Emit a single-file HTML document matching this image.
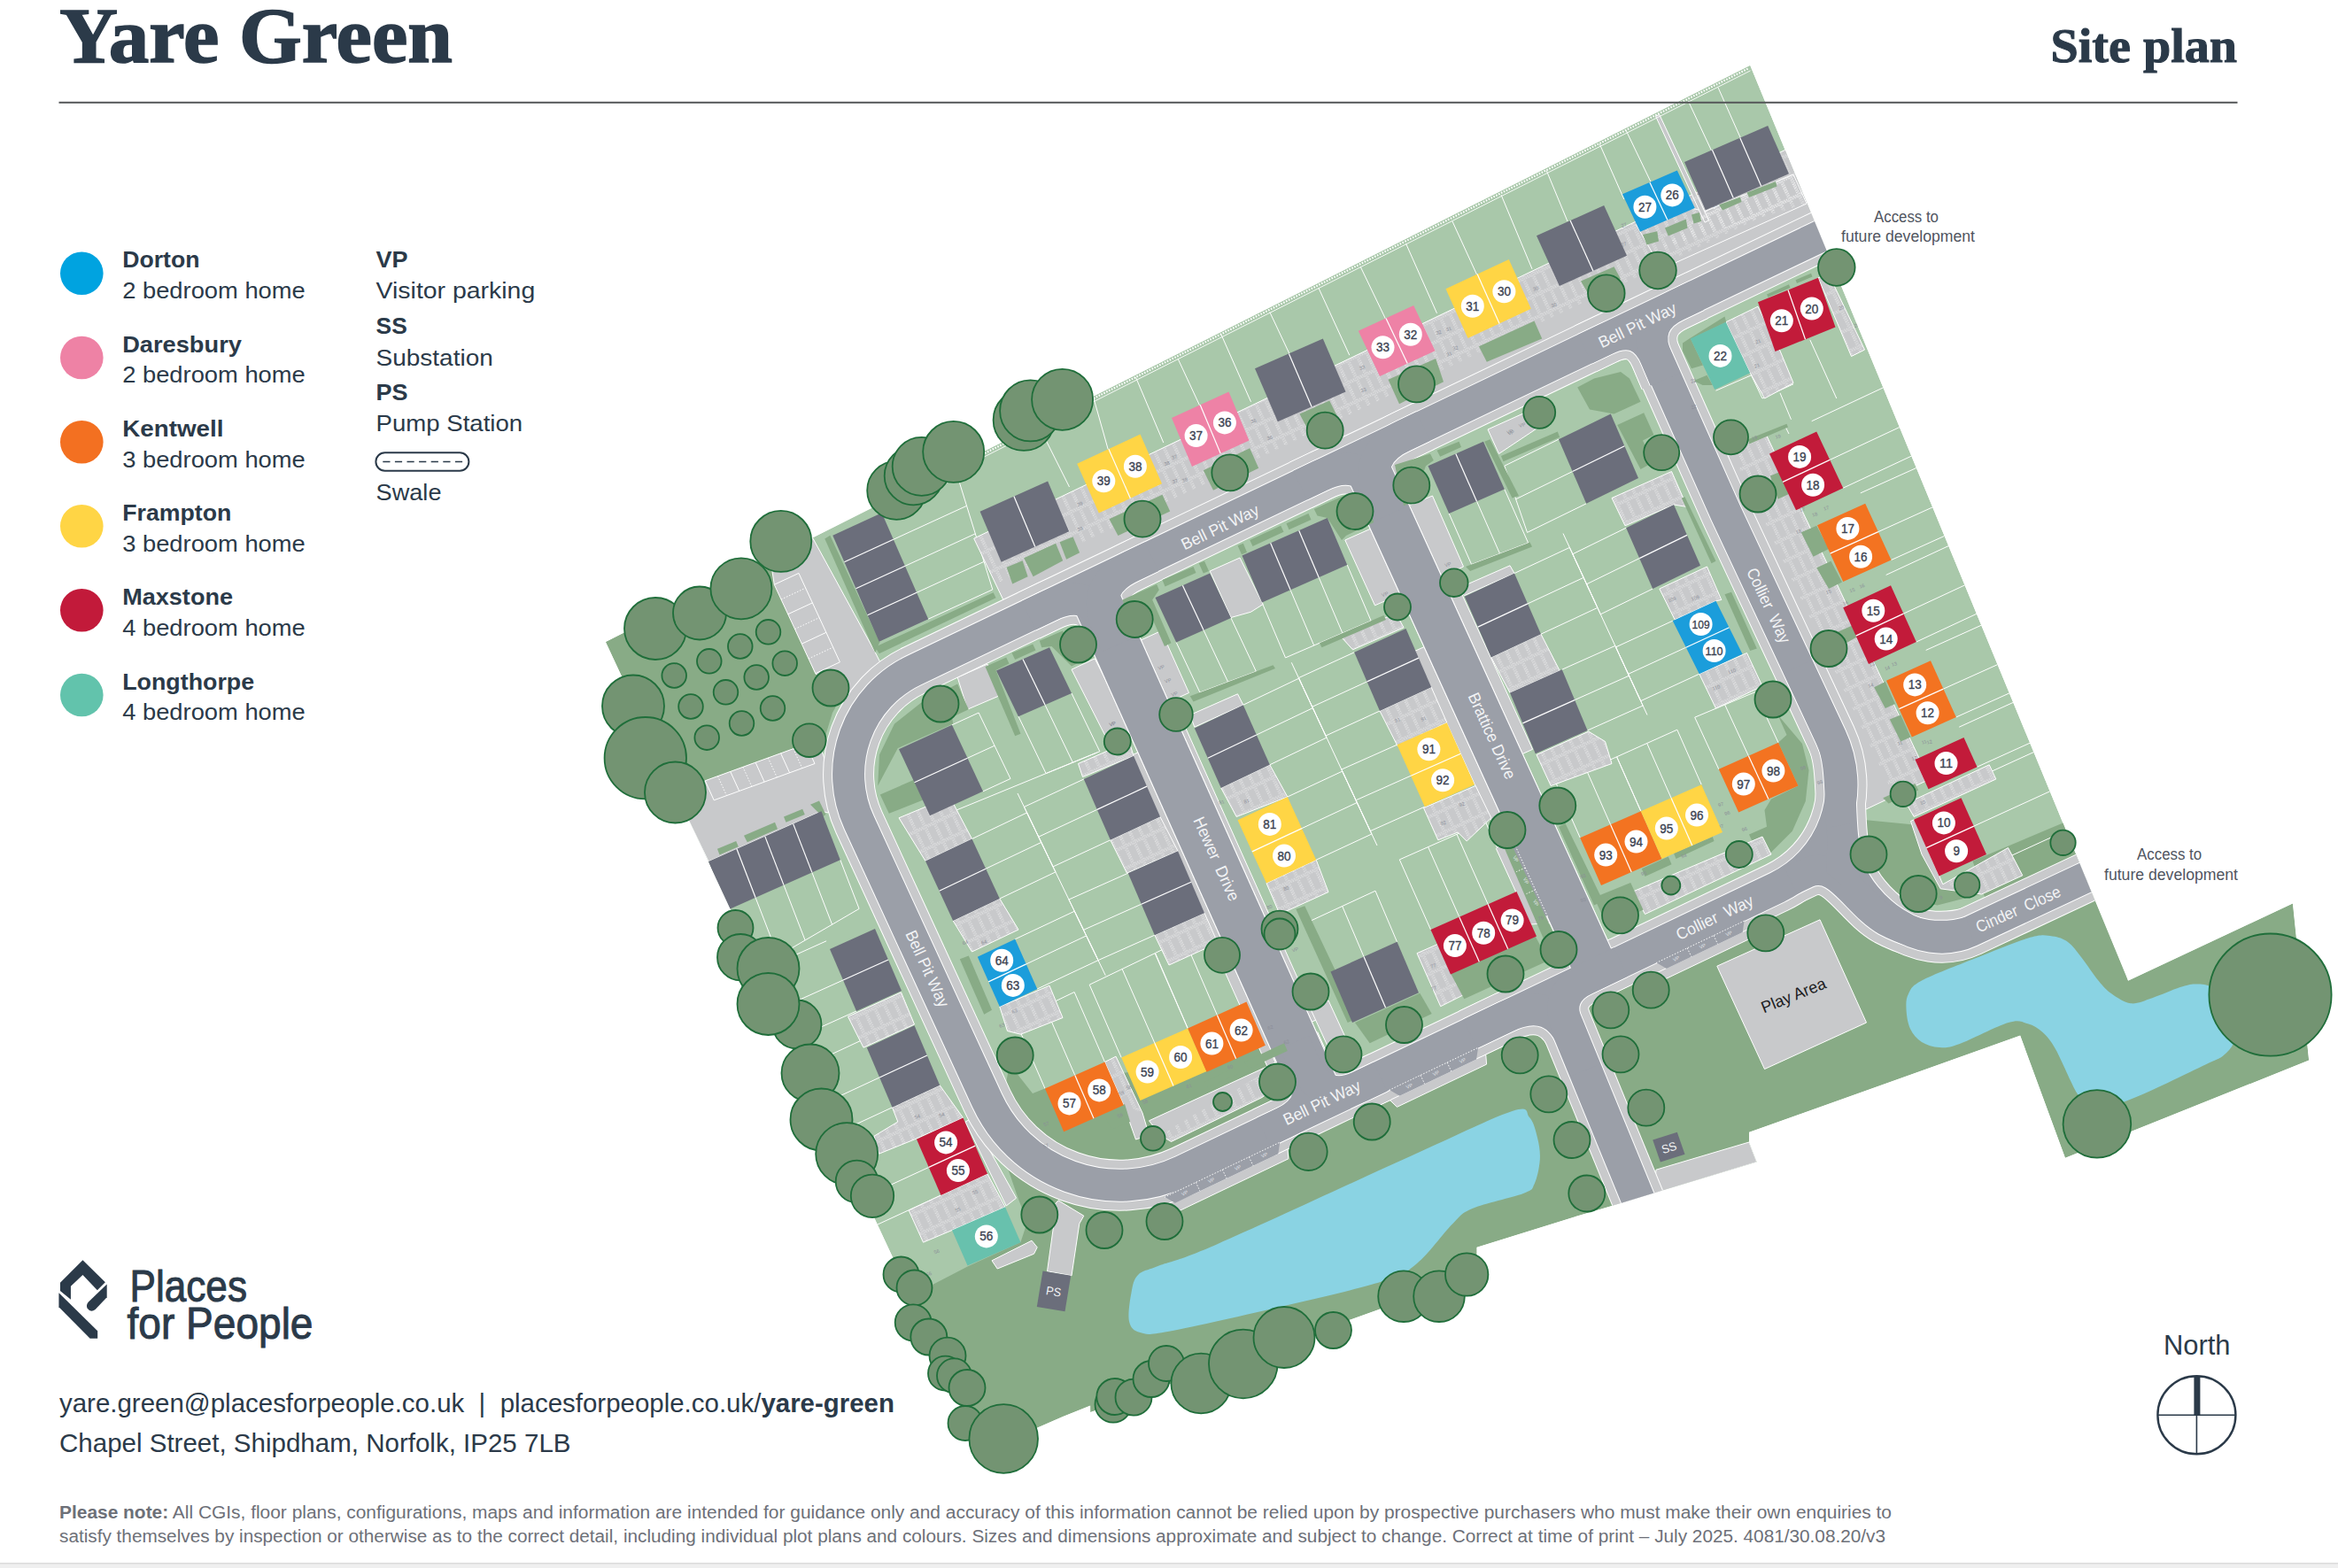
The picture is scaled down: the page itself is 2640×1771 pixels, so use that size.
<!DOCTYPE html>
<html><head><meta charset="utf-8"><title>Yare Green - Site plan</title>
<style>html,body{margin:0;padding:0;background:#fff;}svg{display:block;}text{white-space:pre;}</style></head>
<body>
<svg width="2640" height="1771" viewBox="0 0 2640 1771">
<text x="67.3" y="70" font-family='"Liberation Serif", serif' font-size="88" font-weight="bold" fill="#2b3a49" textLength="443.5" lengthAdjust="spacingAndGlyphs" stroke="#2b3a49" stroke-width="1.6">Yare Green</text>
<text x="2315.5" y="70" font-family='"Liberation Serif", serif' font-size="55" font-weight="bold" fill="#2b3a49" textLength="210.5" lengthAdjust="spacingAndGlyphs" stroke="#2b3a49" stroke-width="1">Site plan</text>
<circle cx="92.3" cy="308.8" r="24.3" fill="#00a3e0"/>
<text x="138.2" y="302.3" font-family='"Liberation Sans", sans-serif' font-size="26" font-weight="bold" fill="#2b3a49" textLength="87.3" lengthAdjust="spacingAndGlyphs">Dorton</text>
<text x="138.2" y="337.0" font-family='"Liberation Sans", sans-serif' font-size="26" fill="#2b3a49" textLength="206.6" lengthAdjust="spacingAndGlyphs">2 bedroom home</text>
<circle cx="92.3" cy="404" r="24.3" fill="#ee82a5"/>
<text x="138.2" y="397.5" font-family='"Liberation Sans", sans-serif' font-size="26" font-weight="bold" fill="#2b3a49" textLength="134.7" lengthAdjust="spacingAndGlyphs">Daresbury</text>
<text x="138.2" y="432.2" font-family='"Liberation Sans", sans-serif' font-size="26" fill="#2b3a49" textLength="206.6" lengthAdjust="spacingAndGlyphs">2 bedroom home</text>
<circle cx="92.3" cy="499.3" r="24.3" fill="#f37021"/>
<text x="138.2" y="492.8" font-family='"Liberation Sans", sans-serif' font-size="26" font-weight="bold" fill="#2b3a49" textLength="114.2" lengthAdjust="spacingAndGlyphs">Kentwell</text>
<text x="138.2" y="527.5" font-family='"Liberation Sans", sans-serif' font-size="26" fill="#2b3a49" textLength="206.6" lengthAdjust="spacingAndGlyphs">3 bedroom home</text>
<circle cx="92.3" cy="594.3" r="24.3" fill="#ffd545"/>
<text x="138.2" y="587.8" font-family='"Liberation Sans", sans-serif' font-size="26" font-weight="bold" fill="#2b3a49" textLength="123.2" lengthAdjust="spacingAndGlyphs">Frampton</text>
<text x="138.2" y="622.5" font-family='"Liberation Sans", sans-serif' font-size="26" fill="#2b3a49" textLength="206.6" lengthAdjust="spacingAndGlyphs">3 bedroom home</text>
<circle cx="92.3" cy="689.3" r="24.3" fill="#c21a3a"/>
<text x="138.2" y="682.8" font-family='"Liberation Sans", sans-serif' font-size="26" font-weight="bold" fill="#2b3a49" textLength="124.8" lengthAdjust="spacingAndGlyphs">Maxstone</text>
<text x="138.2" y="717.5" font-family='"Liberation Sans", sans-serif' font-size="26" fill="#2b3a49" textLength="206.6" lengthAdjust="spacingAndGlyphs">4 bedroom home</text>
<circle cx="92.3" cy="785" r="24.3" fill="#62c3ac"/>
<text x="138.2" y="778.5" font-family='"Liberation Sans", sans-serif' font-size="26" font-weight="bold" fill="#2b3a49" textLength="149" lengthAdjust="spacingAndGlyphs">Longthorpe</text>
<text x="138.2" y="813.2" font-family='"Liberation Sans", sans-serif' font-size="26" fill="#2b3a49" textLength="206.6" lengthAdjust="spacingAndGlyphs">4 bedroom home</text>
<text x="424.6" y="302.3" font-family='"Liberation Sans", sans-serif' font-size="26" font-weight="bold" fill="#2b3a49" textLength="36" lengthAdjust="spacingAndGlyphs">VP</text>
<text x="424.6" y="337" font-family='"Liberation Sans", sans-serif' font-size="26" fill="#2b3a49" textLength="179.6" lengthAdjust="spacingAndGlyphs">Visitor parking</text>
<text x="424.6" y="376.8" font-family='"Liberation Sans", sans-serif' font-size="26" font-weight="bold" fill="#2b3a49" textLength="35.2" lengthAdjust="spacingAndGlyphs">SS</text>
<text x="424.6" y="412.7" font-family='"Liberation Sans", sans-serif' font-size="26" fill="#2b3a49" textLength="132.2" lengthAdjust="spacingAndGlyphs">Substation</text>
<text x="424.6" y="451.7" font-family='"Liberation Sans", sans-serif' font-size="26" font-weight="bold" fill="#2b3a49" textLength="36" lengthAdjust="spacingAndGlyphs">PS</text>
<text x="424.6" y="487.1" font-family='"Liberation Sans", sans-serif' font-size="26" fill="#2b3a49" textLength="165.5" lengthAdjust="spacingAndGlyphs">Pump Station</text>
<rect x="424.4" y="511.2" width="105" height="20.5" rx="10.2" fill="#fff" stroke="#2b3a49" stroke-width="2"/>
<line x1="432.3" y1="521.5" x2="523" y2="521.5" stroke="#2b3a49" stroke-width="1.5" stroke-dasharray="8.2 5.4"/>
<text x="424.6" y="565.4" font-family='"Liberation Sans", sans-serif' font-size="26" fill="#2b3a49" textLength="73.9" lengthAdjust="spacingAndGlyphs">Swale</text>
<g id="map">
<defs><clipPath id="sc"><polygon points="684.0,725.0 1976.2,73.8 2403.0,1107.8 2588.9,1020.6 2607.1,1197.5 2332.0,1307.7 2281.2,1169.6 1975.0,1278.8 1975.0,1290.0 1983.8,1312.5 1867.5,1347.5 1830.0,1359.0 1784.0,1372.5 1667.5,1408.8 1667.5,1441.2 1557.5,1478.8 1231.2,1595.0 1231.2,1587.5 1200.0,1600.0 1172.5,1612.0 1111.0,1641.0"/></clipPath></defs>
<g clip-path="url(#sc)">
<polygon points="684.0,725.0 1976.2,73.8 2403.0,1107.8 2588.9,1020.6 2607.1,1197.5 2332.0,1307.7 2281.2,1169.6 1975.0,1278.8 1975.0,1290.0 1983.8,1312.5 1867.5,1347.5 1830.0,1359.0 1784.0,1372.5 1667.5,1408.8 1667.5,1441.2 1557.5,1478.8 1231.2,1595.0 1231.2,1587.5 1200.0,1600.0 1172.5,1612.0 1111.0,1641.0" fill="#a9c8aa"/>
<polygon points="1027.0,1463.0 1055.0,1450.0 1092.5,1430.5 1152.5,1403.0 1160.0,1380.0 1150.0,1354.5 1125.0,1282.0 1140.0,1202.0 1166.0,1235.0 1181.0,1229.0 1428.8,1180.8 1490.0,1249.0 1772.0,1116.0 1968.8,1020.4 2040.0,985.0 2075.0,905.0 2084.0,965.0 2107.0,1012.0 2140.0,1040.0 2175.0,1056.0 2225.0,1052.0 2365.0,985.0 2403.0,1107.8 2588.9,1020.6 2607.1,1197.5 2332.0,1307.7 2281.2,1169.6 1975.0,1278.8 1975.0,1290.0 1983.8,1312.5 1867.5,1347.5 1830.0,1359.0 1784.0,1372.5 1667.5,1408.8 1667.5,1441.2 1557.5,1478.8 1231.2,1595.0 1231.2,1587.5 1200.0,1600.0 1172.5,1612.0 1111.0,1641.0" fill="#88ab86"/>
<polygon points="683.8,725.0 869.8,631.2 921.2,761.2 966.2,758.0 940.0,805.0 926.2,850.0 922.0,871.2 910.0,840.5 796.2,881.8 777.5,926.2" fill="#88ab86"/>
<polygon points="2227.5,972.5 2331.2,928.8 2362.5,992.5 2250.0,1040.0" fill="#88ab86"/>
<polygon points="2007.5,807.5 2035.0,840.0 2042.5,870.0 2038.8,905.0 2023.8,938.8 1998.8,963.8 1987.5,970.0 1975.0,942.5 1995.0,933.8 1992.5,915.0 2000.0,902.5 2030.5,887.5 2008.0,838.8 2017.5,830.0" fill="#88ab86"/>
<polygon points="2090.0,940.0 2107.5,926.2 2158.8,931.2 2190.0,1001.2 2230.0,983.8 2236.2,1010.0 2187.5,1022.5 2140.0,1012.5 2107.5,985.0" fill="#88ab86"/>
<polyline points="1282.5,426.2 1313.8,500.0" fill="none" stroke="#fff" stroke-width="1"/>
<polyline points="1330.0,405.0 1355.0,458.8" fill="none" stroke="#fff" stroke-width="1"/>
<polyline points="1378.8,377.5 1412.5,453.8" fill="none" stroke="#fff" stroke-width="1"/>
<polyline points="1433.8,352.5 1456.2,400.0" fill="none" stroke="#fff" stroke-width="1"/>
<polyline points="1488.8,325.0 1523.8,401.2" fill="none" stroke="#fff" stroke-width="1"/>
<polyline points="1536.2,301.2 1565.0,361.2" fill="none" stroke="#fff" stroke-width="1"/>
<polyline points="1587.5,275.0 1622.5,353.8" fill="none" stroke="#fff" stroke-width="1"/>
<polyline points="1640.0,250.0 1667.5,310.0" fill="none" stroke="#fff" stroke-width="1"/>
<polyline points="1235.0,450.0 1251.2,507.5" fill="none" stroke="#fff" stroke-width="1"/>
<polyline points="1181.2,497.5 1207.5,550.0" fill="none" stroke="#fff" stroke-width="1"/>
<polyline points="1695.0,220.0 1730.0,303.8" fill="none" stroke="#fff" stroke-width="1"/>
<polyline points="1746.2,192.5 1770.0,250.0" fill="none" stroke="#fff" stroke-width="1"/>
<polyline points="1806.2,162.5 1833.8,225.0" fill="none" stroke="#fff" stroke-width="1"/>
<polyline points="1836.2,147.5 1863.8,205.0" fill="none" stroke="#fff" stroke-width="1"/>
<polyline points="1906.2,113.8 1932.5,170.0" fill="none" stroke="#fff" stroke-width="1"/>
<polyline points="1940.0,98.8 1965.5,156.2" fill="none" stroke="#fff" stroke-width="1"/>
<polyline points="2043.8,383.8 2073.8,450.0" fill="none" stroke="#fff" stroke-width="1"/>
<polyline points="2010.0,443.8 2022.5,473.8" fill="none" stroke="#fff" stroke-width="1"/>
<polyline points="1937.5,441.2 1977.5,423.8" fill="none" stroke="#fff" stroke-width="1"/>
<polyline points="1977.5,423.8 1990.0,450.0" fill="none" stroke="#fff" stroke-width="1"/>
<polyline points="1990.0,450.0 2025.0,433.8" fill="none" stroke="#fff" stroke-width="1"/>
<polyline points="2015.0,480.0 2020.0,490.0" fill="none" stroke="#fff" stroke-width="1"/>
<polyline points="1075.0,818.8 1105.1,805.0" fill="none" stroke="#fff" stroke-width="1"/>
<polyline points="1092.5,856.2 1123.1,842.2" fill="none" stroke="#fff" stroke-width="1"/>
<polyline points="1110.0,893.8 1141.0,879.5" fill="none" stroke="#fff" stroke-width="1"/>
<polyline points="1105.1,805.0 1141.0,879.5" fill="none" stroke="#fff" stroke-width="1"/>
<polyline points="1097.5,947.5 1159.6,917.9" fill="none" stroke="#fff" stroke-width="1"/>
<polyline points="1113.1,981.2 1175.8,951.4" fill="none" stroke="#fff" stroke-width="1"/>
<polyline points="1128.8,1015.0 1191.9,984.9" fill="none" stroke="#fff" stroke-width="1"/>
<polyline points="1159.6,917.9 1191.9,984.9" fill="none" stroke="#fff" stroke-width="1"/>
<polyline points="1146.2,1060.8 1213.3,1029.2" fill="none" stroke="#fff" stroke-width="1"/>
<polyline points="1158.8,1088.9 1226.7,1056.9" fill="none" stroke="#fff" stroke-width="1"/>
<polyline points="1171.2,1117.0 1240.1,1084.6" fill="none" stroke="#fff" stroke-width="1"/>
<polyline points="1213.3,1029.2 1240.1,1084.6" fill="none" stroke="#fff" stroke-width="1"/>
<polyline points="1223.8,880.0 1156.4,911.4" fill="none" stroke="#fff" stroke-width="1"/>
<polyline points="1238.8,914.4 1172.7,945.2" fill="none" stroke="#fff" stroke-width="1"/>
<polyline points="1253.8,948.8 1189.0,978.9" fill="none" stroke="#fff" stroke-width="1"/>
<polyline points="1156.4,911.4 1189.0,978.9" fill="none" stroke="#fff" stroke-width="1"/>
<polyline points="1273.8,986.2 1206.9,1016.0" fill="none" stroke="#fff" stroke-width="1"/>
<polyline points="1288.8,1021.2 1223.5,1050.3" fill="none" stroke="#fff" stroke-width="1"/>
<polyline points="1303.8,1056.2 1240.0,1084.6" fill="none" stroke="#fff" stroke-width="1"/>
<polyline points="1206.9,1016.0 1240.0,1084.6" fill="none" stroke="#fff" stroke-width="1"/>
<polyline points="1149.0,896.0 1248.3,1101.7" fill="none" stroke="#fff" stroke-width="1"/>
<polyline points="1080.0,915.0 1238.7,850.0" fill="none" stroke="#fff" stroke-width="1"/>
<polyline points="1180.0,1229.5 1146.5,1152.6" fill="none" stroke="#fff" stroke-width="1"/>
<polyline points="1213.8,1214.5 1179.8,1136.5" fill="none" stroke="#fff" stroke-width="1"/>
<polyline points="1247.5,1199.5 1213.1,1120.5" fill="none" stroke="#fff" stroke-width="1"/>
<polyline points="1146.5,1152.6 1213.1,1120.5" fill="none" stroke="#fff" stroke-width="1"/>
<polyline points="1266.2,1194.5 1230.2,1112.2" fill="none" stroke="#fff" stroke-width="1"/>
<polyline points="1303.8,1178.0 1267.1,1094.4" fill="none" stroke="#fff" stroke-width="1"/>
<polyline points="1341.2,1161.5 1304.1,1076.7" fill="none" stroke="#fff" stroke-width="1"/>
<polyline points="1230.2,1112.2 1304.1,1076.7" fill="none" stroke="#fff" stroke-width="1"/>
<polyline points="1341.2,1161.5 1304.5,1076.4" fill="none" stroke="#fff" stroke-width="1"/>
<polyline points="1374.4,1146.5 1337.3,1060.7" fill="none" stroke="#fff" stroke-width="1"/>
<polyline points="1407.5,1131.5 1370.1,1044.9" fill="none" stroke="#fff" stroke-width="1"/>
<polyline points="1304.5,1076.4 1370.1,1044.9" fill="none" stroke="#fff" stroke-width="1"/>
<polyline points="1150.0,809.2 1181.1,873.6" fill="none" stroke="#fff" stroke-width="1"/>
<polyline points="1180.0,796.1 1211.4,861.2" fill="none" stroke="#fff" stroke-width="1"/>
<polyline points="1210.0,783.0 1241.8,848.7" fill="none" stroke="#fff" stroke-width="1"/>
<polyline points="1181.1,873.6 1241.8,848.7" fill="none" stroke="#fff" stroke-width="1"/>
<polyline points="1403.8,796.2 1466.7,766.2" fill="none" stroke="#fff" stroke-width="1"/>
<polyline points="1418.8,830.0 1482.3,799.7" fill="none" stroke="#fff" stroke-width="1"/>
<polyline points="1433.8,863.8 1498.0,833.1" fill="none" stroke="#fff" stroke-width="1"/>
<polyline points="1466.7,766.2 1498.0,833.1" fill="none" stroke="#fff" stroke-width="1"/>
<polyline points="1453.8,900.0 1515.7,871.1" fill="none" stroke="#fff" stroke-width="1"/>
<polyline points="1470.0,935.6 1532.3,906.5" fill="none" stroke="#fff" stroke-width="1"/>
<polyline points="1486.2,971.2 1548.9,942.0" fill="none" stroke="#fff" stroke-width="1"/>
<polyline points="1515.7,871.1 1548.9,942.0" fill="none" stroke="#fff" stroke-width="1"/>
<polyline points="1529.2,736.8 1466.4,765.6" fill="none" stroke="#fff" stroke-width="1"/>
<polyline points="1543.6,769.9 1481.7,798.3" fill="none" stroke="#fff" stroke-width="1"/>
<polyline points="1558.0,803.0 1497.0,831.0" fill="none" stroke="#fff" stroke-width="1"/>
<polyline points="1466.4,765.6 1497.0,831.0" fill="none" stroke="#fff" stroke-width="1"/>
<polyline points="1577.5,841.2 1514.8,869.1" fill="none" stroke="#fff" stroke-width="1"/>
<polyline points="1593.1,876.2 1531.1,903.8" fill="none" stroke="#fff" stroke-width="1"/>
<polyline points="1608.8,911.2 1547.3,938.6" fill="none" stroke="#fff" stroke-width="1"/>
<polyline points="1514.8,869.1 1547.3,938.6" fill="none" stroke="#fff" stroke-width="1"/>
<polyline points="1458.3,748.3 1555.0,955.0" fill="none" stroke="#fff" stroke-width="1"/>
<polyline points="1328.2,725.5 1354.9,782.1" fill="none" stroke="#fff" stroke-width="1"/>
<polyline points="1359.1,711.8 1386.6,770.2" fill="none" stroke="#fff" stroke-width="1"/>
<polyline points="1390.0,698.0 1418.4,758.4" fill="none" stroke="#fff" stroke-width="1"/>
<polyline points="1354.9,782.1 1418.4,758.4" fill="none" stroke="#fff" stroke-width="1"/>
<polyline points="1425.0,680.5 1451.5,742.9" fill="none" stroke="#fff" stroke-width="1"/>
<polyline points="1457.1,666.3 1483.7,729.0" fill="none" stroke="#fff" stroke-width="1"/>
<polyline points="1489.2,652.2 1515.9,715.1" fill="none" stroke="#fff" stroke-width="1"/>
<polyline points="1521.2,638.0 1548.1,701.2" fill="none" stroke="#fff" stroke-width="1"/>
<polyline points="1451.5,742.9 1548.1,701.2" fill="none" stroke="#fff" stroke-width="1"/>
<polyline points="1636.2,580.0 1661.6,637.5" fill="none" stroke="#fff" stroke-width="1"/>
<polyline points="1667.5,566.2 1693.6,625.4" fill="none" stroke="#fff" stroke-width="1"/>
<polyline points="1698.8,552.5 1725.6,613.2" fill="none" stroke="#fff" stroke-width="1"/>
<polyline points="1661.6,637.5 1725.6,613.2" fill="none" stroke="#fff" stroke-width="1"/>
<polyline points="1710.0,647.5 1772.4,618.4" fill="none" stroke="#fff" stroke-width="1"/>
<polyline points="1725.0,681.9 1788.1,652.4" fill="none" stroke="#fff" stroke-width="1"/>
<polyline points="1740.0,716.2 1803.9,686.4" fill="none" stroke="#fff" stroke-width="1"/>
<polyline points="1772.4,618.4 1803.9,686.4" fill="none" stroke="#fff" stroke-width="1"/>
<polyline points="1763.8,756.2 1823.8,729.4" fill="none" stroke="#fff" stroke-width="1"/>
<polyline points="1778.1,790.6 1839.5,763.2" fill="none" stroke="#fff" stroke-width="1"/>
<polyline points="1792.5,825.0 1855.1,797.0" fill="none" stroke="#fff" stroke-width="1"/>
<polyline points="1823.8,729.4 1855.1,797.0" fill="none" stroke="#fff" stroke-width="1"/>
<polyline points="1836.2,596.2 1775.8,625.8" fill="none" stroke="#fff" stroke-width="1"/>
<polyline points="1851.2,630.6 1791.5,659.8" fill="none" stroke="#fff" stroke-width="1"/>
<polyline points="1866.2,665.0 1807.3,693.8" fill="none" stroke="#fff" stroke-width="1"/>
<polyline points="1775.8,625.8 1807.3,693.8" fill="none" stroke="#fff" stroke-width="1"/>
<polyline points="1888.8,701.2 1824.5,730.9" fill="none" stroke="#fff" stroke-width="1"/>
<polyline points="1903.8,731.2 1838.6,761.3" fill="none" stroke="#fff" stroke-width="1"/>
<polyline points="1918.8,761.2 1852.7,791.7" fill="none" stroke="#fff" stroke-width="1"/>
<polyline points="1824.5,730.9 1852.7,791.7" fill="none" stroke="#fff" stroke-width="1"/>
<polyline points="1765.0,602.5 1860.0,807.5" fill="none" stroke="#fff" stroke-width="1"/>
<polyline points="1760.0,496.2 1698.8,526.2" fill="none" stroke="#fff" stroke-width="1"/>
<polyline points="1775.6,532.5 1711.6,563.8" fill="none" stroke="#fff" stroke-width="1"/>
<polyline points="1791.2,568.8 1724.5,601.4" fill="none" stroke="#fff" stroke-width="1"/>
<polyline points="1698.8,526.2 1724.5,601.4" fill="none" stroke="#fff" stroke-width="1"/>
<polyline points="1784.2,946.2 1757.3,885.3" fill="none" stroke="#fff" stroke-width="1"/>
<polyline points="1818.5,931.2 1791.5,870.1" fill="none" stroke="#fff" stroke-width="1"/>
<polyline points="1852.8,916.2 1825.6,854.8" fill="none" stroke="#fff" stroke-width="1"/>
<polyline points="1757.3,885.3 1825.6,854.8" fill="none" stroke="#fff" stroke-width="1"/>
<polyline points="1852.8,916.2 1825.6,854.8" fill="none" stroke="#fff" stroke-width="1"/>
<polyline points="1887.0,901.2 1859.7,839.5" fill="none" stroke="#fff" stroke-width="1"/>
<polyline points="1921.2,886.2 1893.8,824.2" fill="none" stroke="#fff" stroke-width="1"/>
<polyline points="1825.6,854.8 1893.8,824.2" fill="none" stroke="#fff" stroke-width="1"/>
<polyline points="1940.8,868.8 1913.7,810.2" fill="none" stroke="#fff" stroke-width="1"/>
<polyline points="1974.4,853.8 1947.7,796.0" fill="none" stroke="#fff" stroke-width="1"/>
<polyline points="2008.0,838.8 1981.7,781.7" fill="none" stroke="#fff" stroke-width="1"/>
<polyline points="1913.7,810.2 1981.7,781.7" fill="none" stroke="#fff" stroke-width="1"/>
<polyline points="2045.7,475.7 2126.5,437.8" fill="none" stroke="#fff" stroke-width="1"/>
<polyline points="2066.2,519.4 2144.9,482.5" fill="none" stroke="#fff" stroke-width="1"/>
<polyline points="2081.2,551.2 2158.3,515.1" fill="none" stroke="#fff" stroke-width="1"/>
<polyline points="2100.8,556.9 2163.9,528.5" fill="none" stroke="#fff" stroke-width="1"/>
<polyline points="2120.9,600.6 2182.2,572.9" fill="none" stroke="#fff" stroke-width="1"/>
<polyline points="2135.5,632.5 2195.6,605.4" fill="none" stroke="#fff" stroke-width="1"/>
<polyline points="2129.7,649.4 2200.2,616.6" fill="none" stroke="#fff" stroke-width="1"/>
<polyline points="2149.4,693.1 2218.6,660.9" fill="none" stroke="#fff" stroke-width="1"/>
<polyline points="2163.8,725.0 2231.9,693.3" fill="none" stroke="#fff" stroke-width="1"/>
<polyline points="2174.7,734.4 2237.2,706.2" fill="none" stroke="#fff" stroke-width="1"/>
<polyline points="2194.4,778.1 2255.6,750.6" fill="none" stroke="#fff" stroke-width="1"/>
<polyline points="2208.8,810.0 2268.9,782.9" fill="none" stroke="#fff" stroke-width="1"/>
<polyline points="2212.2,821.2 2273.2,793.4" fill="none" stroke="#fff" stroke-width="1"/>
<polyline points="2232.5,866.2 2292.1,839.2" fill="none" stroke="#fff" stroke-width="1"/>
<polyline points="2209.2,889.4 2296.4,849.5" fill="none" stroke="#fff" stroke-width="1"/>
<polyline points="2228.8,933.1 2314.7,893.8" fill="none" stroke="#fff" stroke-width="1"/>
<polyline points="2248.3,976.9 2333.0,938.1" fill="none" stroke="#fff" stroke-width="1"/>
<polyline points="821.2,1028.0 848.1,1097.6" fill="none" stroke="#fff" stroke-width="1"/>
<polyline points="853.1,1013.8 878.6,1079.8" fill="none" stroke="#fff" stroke-width="1"/>
<polyline points="885.0,999.6 909.1,1062.0" fill="none" stroke="#fff" stroke-width="1"/>
<polyline points="916.9,985.4 939.6,1044.2" fill="none" stroke="#fff" stroke-width="1"/>
<polyline points="948.8,971.2 970.1,1026.4" fill="none" stroke="#fff" stroke-width="1"/>
<polyline points="848.1,1097.6 970.1,1026.4" fill="none" stroke="#fff" stroke-width="1"/>
<polyline points="933.1,1062.8 857.4,1096.9" fill="none" stroke="#fff" stroke-width="1"/>
<polyline points="952.0,1107.0 877.7,1140.5" fill="none" stroke="#fff" stroke-width="1"/>
<polyline points="967.0,1142.0 893.8,1175.0" fill="none" stroke="#fff" stroke-width="1"/>
<polyline points="974.8,1174.0 907.9,1205.2" fill="none" stroke="#fff" stroke-width="1"/>
<polyline points="993.1,1217.0 927.6,1247.5" fill="none" stroke="#fff" stroke-width="1"/>
<polyline points="1007.5,1250.8 943.1,1280.7" fill="none" stroke="#fff" stroke-width="1"/>
<polyline points="1031.0,1277.6 957.4,1311.6" fill="none" stroke="#fff" stroke-width="1"/>
<polyline points="1048.8,1318.4 976.2,1351.9" fill="none" stroke="#fff" stroke-width="1"/>
<polyline points="1062.5,1350.0 990.8,1383.1" fill="none" stroke="#fff" stroke-width="1"/>
<polyline points="995.7,579.3 1081.8,539.8" fill="none" stroke="#fff" stroke-width="1"/>
<polyline points="1008.8,609.3 1091.6,571.3" fill="none" stroke="#fff" stroke-width="1"/>
<polyline points="1022.0,639.3 1101.3,602.8" fill="none" stroke="#fff" stroke-width="1"/>
<polyline points="1035.1,669.3 1111.0,634.4" fill="none" stroke="#fff" stroke-width="1"/>
<polyline points="1048.2,699.2 1120.8,665.9" fill="none" stroke="#fff" stroke-width="1"/>
<polyline points="1081.8,539.8 1120.8,665.9" fill="none" stroke="#fff" stroke-width="1"/>
<polyline points="1615.5,1050.0 1580.3,970.9" fill="none" stroke="#fff" stroke-width="1"/>
<polyline points="1647.8,1035.7 1612.6,956.6" fill="none" stroke="#fff" stroke-width="1"/>
<polyline points="1680.2,1021.3 1645.0,942.3" fill="none" stroke="#fff" stroke-width="1"/>
<polyline points="1712.5,1007.0 1677.3,928.0" fill="none" stroke="#fff" stroke-width="1"/>
<polyline points="1580.3,970.9 1677.3,928.0" fill="none" stroke="#fff" stroke-width="1"/>
<polyline points="1502.5,1097.5 1478.3,1040.8" fill="none" stroke="#fff" stroke-width="1"/>
<polyline points="1540.0,1080.6 1515.7,1023.5" fill="none" stroke="#fff" stroke-width="1"/>
<polyline points="1577.5,1063.8 1553.0,1006.2" fill="none" stroke="#fff" stroke-width="1"/>
<polyline points="1478.3,1040.8 1553.0,1006.2" fill="none" stroke="#fff" stroke-width="1"/>
<defs><pattern id="bays" patternUnits="userSpaceOnUse" width="11.5" height="23" patternTransform="rotate(-25)"><rect x="1" y="1" width="9.5" height="21" fill="none" stroke="#fff" stroke-width="1.05" stroke-linecap="round" stroke-dasharray="0.1 2.44"/></pattern></defs>
<polygon points="1145.0,702.9 2096.5,247.1 2051.1,152.4 1099.7,608.2" fill="#c8c9cb" stroke="#fff" stroke-width="1"/>
<polygon points="1847.5,253.8 1900.0,232.5 1925.0,238.8 2025.0,197.0 2040.0,230.0 1876.2,303.8" fill="#c8c9cb" stroke="#fff" stroke-width="1"/>
<polygon points="1869.5,131.2 1873.8,129.5 1929.5,248.8 1925.0,251.2" fill="#c8c9cb" stroke="#fff" stroke-width="1"/>
<polygon points="1948.8,363.8 1985.0,346.2 2010.0,396.2 2025.0,432.5 1992.5,450.0 1976.2,421.2" fill="#c8c9cb" stroke="#fff" stroke-width="1"/>
<polygon points="2053.0,313.8 2065.0,310.0 2105.5,395.0 2090.5,402.5" fill="#c8c9cb" stroke="#fff" stroke-width="1"/>
<polygon points="1921.5,523.9 2106.1,914.5 2178.4,880.3 1993.8,489.8" fill="#c8c9cb" stroke="#fff" stroke-width="1"/>
<polygon points="2152.5,907.5 2246.2,863.8 2253.8,880.0 2161.2,922.5" fill="#c8c9cb" stroke="#fff" stroke-width="1"/>
<polygon points="2157.5,927.5 2162.0,925.5 2193.8,998.8 2267.5,957.5 2283.8,988.8 2237.5,1010.0 2191.2,1003.8 2170.0,965.0" fill="#c8c9cb" stroke="#fff" stroke-width="1"/>
<polygon points="1820.0,562.5 1887.5,532.5 1905.0,572.5 1890.0,570.0 1835.0,593.8" fill="#c8c9cb" stroke="#fff" stroke-width="1"/>
<polygon points="1873.8,665.0 1927.5,640.0 1943.8,677.5 1937.5,678.8 1891.2,700.0" fill="#c8c9cb" stroke="#fff" stroke-width="1"/>
<polygon points="1918.8,761.2 1972.5,737.5 1990.0,775.0 1937.5,800.0" fill="#c8c9cb" stroke="#fff" stroke-width="1"/>
<polygon points="1631.3,720.1 1736.6,951.2 1702.1,967.0 1596.7,735.8" fill="#c8c9cb" stroke="#fff" stroke-width="1"/>
<polygon points="1606.8,666.4 1696.0,862.0 1730.6,846.3 1641.4,650.6" fill="#c8c9cb" stroke="#fff" stroke-width="1"/>
<polygon points="1307.2,839.9 1465.7,1194.0 1432.8,1208.7 1274.4,854.6" fill="#c8c9cb" stroke="#fff" stroke-width="1"/>
<polygon points="1284.8,789.6 1453.4,1166.6 1486.3,1151.9 1317.6,774.9" fill="#c8c9cb" stroke="#fff" stroke-width="1"/>
<polygon points="1515.0,720.0 1576.2,692.5 1585.0,708.8 1527.5,733.8" fill="#c8c9cb" stroke="#fff" stroke-width="1"/>
<polygon points="1558.0,803.0 1616.2,776.2 1633.8,816.2 1578.0,842.5" fill="#c8c9cb" stroke="#fff" stroke-width="1"/>
<polygon points="1607.5,912.5 1666.2,887.5 1683.8,923.8 1656.2,950.0 1646.2,940.0 1623.8,948.8" fill="#c8c9cb" stroke="#fff" stroke-width="1"/>
<polygon points="1642.5,666.2 1705.0,638.8 1710.0,647.5 1653.8,672.5" fill="#c8c9cb" stroke="#fff" stroke-width="1"/>
<polygon points="1683.8,742.5 1740.0,716.2 1761.2,757.5 1705.0,782.5" fill="#c8c9cb" stroke="#fff" stroke-width="1"/>
<polygon points="1735.0,852.5 1793.8,826.2 1812.5,837.5 1820.0,862.5 1751.2,887.5" fill="#c8c9cb" stroke="#fff" stroke-width="1"/>
<polygon points="1217.5,862.5 1275.0,837.5 1280.0,853.8 1222.5,877.5" fill="#c8c9cb" stroke="#fff" stroke-width="1"/>
<polygon points="1253.8,948.8 1310.0,922.5 1330.0,961.2 1272.5,986.2" fill="#c8c9cb" stroke="#fff" stroke-width="1"/>
<polygon points="1303.8,1056.2 1360.0,1031.2 1375.0,1065.0 1320.0,1090.0" fill="#c8c9cb" stroke="#fff" stroke-width="1"/>
<polygon points="1343.8,807.5 1397.5,783.8 1403.8,796.2 1348.8,821.2" fill="#c8c9cb" stroke="#fff" stroke-width="1"/>
<polygon points="1378.8,890.0 1433.8,863.8 1453.8,900.0 1396.2,922.5" fill="#c8c9cb" stroke="#fff" stroke-width="1"/>
<polygon points="1430.0,997.5 1486.2,971.2 1500.0,1007.5 1445.0,1032.5" fill="#c8c9cb" stroke="#fff" stroke-width="1"/>
<polygon points="957.5,1148.2 1017.5,1120.8 1032.5,1157.0 975.0,1183.2" fill="#c8c9cb" stroke="#fff" stroke-width="1"/>
<polygon points="1007.5,1250.8 1061.2,1225.8 1087.5,1262.5 1032.5,1287.0 992.5,1303.2 987.0,1283.2 1013.8,1267.0" fill="#c8c9cb" stroke="#fff" stroke-width="1"/>
<polygon points="1062.5,1350.0 1115.0,1325.8 1135.0,1363.2 1075.0,1389.5 1042.5,1403.2 1026.2,1367.0" fill="#c8c9cb" stroke="#fff" stroke-width="1"/>
<polygon points="1128.8,1137.0 1185.0,1113.2 1200.0,1149.5 1152.5,1168.2 1137.5,1164.5" fill="#c8c9cb" stroke="#fff" stroke-width="1"/>
<polygon points="1247.5,1199.5 1260.0,1193.2 1290.0,1257.0 1297.5,1282.0 1282.5,1287.0 1268.8,1248.2" fill="#c8c9cb" stroke="#fff" stroke-width="1"/>
<polygon points="1297.5,1265.8 1450.0,1195.8 1458.8,1214.5 1425.0,1239.5 1322.5,1289.5 1310.0,1282.0" fill="#c8c9cb" stroke="#fff" stroke-width="1"/>
<polygon points="1195.0,1355.8 1223.8,1373.2 1218.8,1382.0 1210.0,1440.8 1182.5,1435.8 1190.0,1382.0 1187.5,1364.5" fill="#c8c9cb" stroke="#fff" stroke-width="1"/>
<polygon points="1120.0,1423.8 1165.0,1401.2 1171.2,1408.8 1167.5,1416.2 1126.2,1433.0" fill="#c8c9cb" stroke="#fff" stroke-width="1"/>
<polygon points="869.8,631.2 917.8,607.8 988.2,736.7 1000.0,760.0 960.0,800.0 920.8,760.7 874.3,660.3" fill="#c8c9cb" stroke="#fff" stroke-width="1"/>
<polygon points="777.5,926.2 796.2,881.8 910.0,840.5 928.8,850.0 943.8,900.0 935.0,918.0 927.5,916.2 800.0,973.0" fill="#c8c9cb" stroke="#fff" stroke-width="1"/>
<polygon points="1081.2,765.0 1115.0,750.0 1127.5,786.2 1092.5,801.2" fill="#c8c9cb" stroke="#fff" stroke-width="1"/>
<polygon points="1015.0,923.8 1072.5,900.0 1097.5,947.5 1045.0,972.5" fill="#c8c9cb" stroke="#fff" stroke-width="1"/>
<polygon points="1076.2,1040.0 1128.8,1015.0 1150.0,1050.0 1097.5,1075.0" fill="#c8c9cb" stroke="#fff" stroke-width="1"/>
<polygon points="1210.0,756.2 1236.2,743.8 1277.5,825.0 1262.5,840.0 1247.5,830.0" fill="#c8c9cb" stroke="#fff" stroke-width="1"/>
<polygon points="1280.0,727.5 1310.0,713.8 1340.0,780.0 1312.5,792.5" fill="#c8c9cb" stroke="#fff" stroke-width="1"/>
<polygon points="1366.2,645.0 1400.0,630.0 1426.2,682.5 1412.5,691.2 1390.0,697.5" fill="#c8c9cb" stroke="#fff" stroke-width="1"/>
<polygon points="1518.8,610.0 1550.0,596.2 1583.8,670.0 1552.5,683.8" fill="#c8c9cb" stroke="#fff" stroke-width="1"/>
<polygon points="1590.0,571.2 1617.5,560.0 1652.5,640.0 1626.2,652.5" fill="#c8c9cb" stroke="#fff" stroke-width="1"/>
<polygon points="1281.2,726.2 1311.2,712.5 1342.5,782.5 1312.5,796.2" fill="#c8c9cb" stroke="#fff" stroke-width="1"/>
<polygon points="1680.0,485.0 1730.0,462.5 1737.5,482.5 1692.5,512.5" fill="#c8c9cb" stroke="#fff" stroke-width="1"/>
<polygon points="1870.0,1321.2 1975.0,1290.0 1983.8,1312.5 1867.5,1348.0" fill="#c8c9cb" stroke="#fff" stroke-width="1"/>
<polygon points="1090.0,1267.0 1097.5,1263.2 1147.5,1353.2 1136.2,1362.0" fill="#c8c9cb" stroke="#fff" stroke-width="1"/>
<polygon points="1307.7,1355.8 1323.9,1371.3 1454.8,1308.8 1453.0,1286.5" fill="#c8c9cb" stroke="#fff" stroke-width="1"/>
<polygon points="1561.3,1234.8 1577.5,1250.3 1678.6,1202.1 1676.8,1179.7" fill="#c8c9cb" stroke="#fff" stroke-width="1"/>
<polygon points="1862.8,1091.0 1879.0,1106.5 1979.2,1058.7 1977.4,1036.3" fill="#c8c9cb" stroke="#fff" stroke-width="1"/>
<polygon points="1705.2,942.5 1689.4,958.5 1728.4,1044.0 1750.8,1042.6" fill="#c8c9cb" stroke="#fff" stroke-width="1"/>
<polygon points="1843.8,1007.0 1990.0,945.0 2000.0,965.0 1857.5,1032.5" fill="#c8c9cb" stroke="#fff" stroke-width="1"/>
<polygon points="1600.0,1076.7 1626.7,1065.0 1653.3,1123.3 1626.7,1136.7" fill="#c8c9cb" stroke="#fff" stroke-width="1"/>
<polygon points="1480.0,1140.0 1500.0,1130.0 1520.0,1173.3 1500.0,1183.3" fill="#c8c9cb" stroke="#fff" stroke-width="1"/>
<polygon points="1124.3,659.6 2075.7,203.8 2051.1,152.4 1099.7,608.2" fill="url(#bays)"/>
<polygon points="1954.1,508.6 2138.7,899.1 2178.4,880.3 1993.8,489.8" fill="url(#bays)"/>
<polygon points="1876.2,280.0 1925.0,238.8 2025.0,197.0 2040.0,230.0" fill="url(#bays)"/>
<polygon points="1948.8,363.8 1985.0,346.2 2010.0,396.2 2025.0,432.5 1992.5,450.0 1976.2,421.2" fill="url(#bays)"/>
<polygon points="2053.0,313.8 2065.0,310.0 2105.5,395.0 2090.5,402.5" fill="url(#bays)"/>
<polygon points="1820.0,562.5 1887.5,532.5 1905.0,572.5 1890.0,570.0 1835.0,593.8" fill="url(#bays)"/>
<polygon points="1873.8,665.0 1927.5,640.0 1943.8,677.5 1937.5,678.8 1891.2,700.0" fill="url(#bays)"/>
<polygon points="1918.8,761.2 1972.5,737.5 1990.0,775.0 1937.5,800.0" fill="url(#bays)"/>
<polygon points="1515.0,720.0 1576.2,692.5 1585.0,708.8 1527.5,733.8" fill="url(#bays)"/>
<polygon points="1558.0,803.0 1616.2,776.2 1633.8,816.2 1578.0,842.5" fill="url(#bays)"/>
<polygon points="1607.5,912.5 1666.2,887.5 1683.8,923.8 1656.2,950.0 1646.2,940.0 1623.8,948.8" fill="url(#bays)"/>
<polygon points="1683.8,742.5 1740.0,716.2 1761.2,757.5 1705.0,782.5" fill="url(#bays)"/>
<polygon points="1735.0,852.5 1793.8,826.2 1812.5,837.5 1820.0,862.5 1751.2,887.5" fill="url(#bays)"/>
<polygon points="1217.5,862.5 1275.0,837.5 1280.0,853.8 1222.5,877.5" fill="url(#bays)"/>
<polygon points="1253.8,948.8 1310.0,922.5 1330.0,961.2 1272.5,986.2" fill="url(#bays)"/>
<polygon points="1303.8,1056.2 1360.0,1031.2 1375.0,1065.0 1320.0,1090.0" fill="url(#bays)"/>
<polygon points="1378.8,890.0 1433.8,863.8 1453.8,900.0 1396.2,922.5" fill="url(#bays)"/>
<polygon points="1430.0,997.5 1486.2,971.2 1500.0,1007.5 1445.0,1032.5" fill="url(#bays)"/>
<polygon points="957.5,1148.2 1017.5,1120.8 1032.5,1157.0 975.0,1183.2" fill="url(#bays)"/>
<polygon points="1007.5,1250.8 1061.2,1225.8 1087.5,1262.5 1032.5,1287.0 992.5,1303.2 987.0,1283.2 1013.8,1267.0" fill="url(#bays)"/>
<polygon points="1062.5,1350.0 1115.0,1325.8 1135.0,1363.2 1075.0,1389.5 1042.5,1403.2 1026.2,1367.0" fill="url(#bays)"/>
<polygon points="1128.8,1137.0 1185.0,1113.2 1200.0,1149.5 1152.5,1168.2 1137.5,1164.5" fill="url(#bays)"/>
<polygon points="1247.5,1199.5 1260.0,1193.2 1290.0,1257.0 1268.8,1248.2" fill="url(#bays)"/>
<polygon points="1310.0,1282.0 1322.5,1289.5 1425.0,1239.5 1450.0,1195.8 1447.5,1199.5" fill="url(#bays)"/>
<polygon points="1015.0,923.8 1072.5,900.0 1097.5,947.5 1045.0,972.5" fill="url(#bays)"/>
<polygon points="1076.2,1040.0 1128.8,1015.0 1150.0,1050.0 1097.5,1075.0" fill="url(#bays)"/>
<polygon points="2152.5,907.5 2246.2,863.8 2253.8,880.0 2161.2,922.5" fill="url(#bays)"/>
<polygon points="2193.8,998.8 2267.5,957.5 2283.8,988.8 2237.5,1010.0" fill="url(#bays)"/>
<polygon points="1843.8,1007.0 1990.0,945.0 2000.0,965.0 1857.5,1032.5" fill="url(#bays)"/>
<polygon points="1600.0,1076.7 1626.7,1065.0 1653.3,1123.3 1626.7,1136.7" fill="url(#bays)"/>
<path d="M2100,245.5 L1031.9,757.2 A130 130 0 0 0 970,928.8 L1114.6,1243 A165 165 0 0 0 1335.1,1322.8 L2006.6,1002.4 A128 128 0 0 0 2067.2,832.2 L1949,580 L1853,364" fill="none" stroke="#fff" stroke-width="58" stroke-linejoin="round"/>
<path d="M2030,753 L2067.2,832.2 C2085,870 2072,935 2088,980 C2102,1022 2166,1079.5 2225,1052 L2400,970" fill="none" stroke="#fff" stroke-width="57" stroke-linejoin="round"/>
<path d="M1754.6,1122.6 L1870,1404" fill="none" stroke="#fff" stroke-width="60" stroke-linejoin="round"/>
<path d="M1231,662 L1492.9,1247.6" fill="none" stroke="#fff" stroke-width="56" stroke-linejoin="round"/>
<path d="M1537.7,514.8 L1804,1099" fill="none" stroke="#fff" stroke-width="52" stroke-linejoin="round"/>
<path d="M2022,994.5 L2040,986 C2075,970 2095,1020 2130,1040 C2160,1056 2190,1062 2225,1052" fill="none" stroke="#fff" stroke-width="56" stroke-linejoin="round"/>
<path d="M1660,1167.7 L1700,1148.6 Q1754.6,1122.6 1777.4,1178.1 L1790,1208.9" fill="none" stroke="#fff" stroke-width="58" stroke-linejoin="round"/>
<path d="M1790,1208.9 L1769.8,1159.6 Q1754.6,1122.6 1790.7,1105.4 L1830,1086.6" fill="none" stroke="#fff" stroke-width="58" stroke-linejoin="round"/>
<path d="M1789.9,394.2 L1812.4,383.4 Q1853.0,364.0 1870.6,405.4 L1880.4,428.4" fill="none" stroke="#fff" stroke-width="58" stroke-linejoin="round"/>
<path d="M1916.1,333.8 L1893.6,344.6 Q1853.0,364.0 1870.6,405.4 L1880.4,428.4" fill="none" stroke="#fff" stroke-width="58" stroke-linejoin="round"/>
<path d="M1161.6,695.3 L1184.1,684.5 Q1231.0,662.0 1250.6,705.8 L1260.8,728.6" fill="none" stroke="#fff" stroke-width="58" stroke-linejoin="round"/>
<path d="M1300.4,628.7 L1277.9,639.5 Q1231.0,662.0 1250.6,705.8 L1260.8,728.6" fill="none" stroke="#fff" stroke-width="58" stroke-linejoin="round"/>
<path d="M1468.3,548.1 L1490.8,537.3 Q1537.7,514.8 1557.6,558.5 L1568.0,581.2" fill="none" stroke="#fff" stroke-width="58" stroke-linejoin="round"/>
<path d="M1607.1,481.5 L1584.6,492.3 Q1537.7,514.8 1557.6,558.5 L1568.0,581.2" fill="none" stroke="#fff" stroke-width="58" stroke-linejoin="round"/>
<path d="M1461.5,1177.3 L1471.7,1200.1 Q1492.9,1247.6 1449.6,1268.3 L1427.0,1279.0" fill="none" stroke="#fff" stroke-width="58" stroke-linejoin="round"/>
<path d="M1461.5,1177.3 L1471.7,1200.1 Q1492.9,1247.6 1536.2,1226.9 L1558.8,1216.2" fill="none" stroke="#fff" stroke-width="58" stroke-linejoin="round"/>
<path d="M2100,245.5 L1031.9,757.2 A130 130 0 0 0 970,928.8 L1114.6,1243 A165 165 0 0 0 1335.1,1322.8 L2006.6,1002.4 A128 128 0 0 0 2067.2,832.2 L1949,580 L1853,364" fill="none" stroke="#c8c9cb" stroke-width="56" stroke-linejoin="round"/>
<path d="M2030,753 L2067.2,832.2 C2085,870 2072,935 2088,980 C2102,1022 2166,1079.5 2225,1052 L2400,970" fill="none" stroke="#c8c9cb" stroke-width="55" stroke-linejoin="round"/>
<path d="M1754.6,1122.6 L1870,1404" fill="none" stroke="#c8c9cb" stroke-width="58" stroke-linejoin="round"/>
<path d="M1231,662 L1492.9,1247.6" fill="none" stroke="#c8c9cb" stroke-width="54" stroke-linejoin="round"/>
<path d="M1537.7,514.8 L1804,1099" fill="none" stroke="#c8c9cb" stroke-width="50" stroke-linejoin="round"/>
<path d="M2022,994.5 L2040,986 C2075,970 2095,1020 2130,1040 C2160,1056 2190,1062 2225,1052" fill="none" stroke="#c8c9cb" stroke-width="54" stroke-linejoin="round"/>
<path d="M1660,1167.7 L1700,1148.6 Q1754.6,1122.6 1777.4,1178.1 L1790,1208.9" fill="none" stroke="#c8c9cb" stroke-width="56" stroke-linejoin="round"/>
<path d="M1790,1208.9 L1769.8,1159.6 Q1754.6,1122.6 1790.7,1105.4 L1830,1086.6" fill="none" stroke="#c8c9cb" stroke-width="56" stroke-linejoin="round"/>
<path d="M1789.9,394.2 L1812.4,383.4 Q1853.0,364.0 1870.6,405.4 L1880.4,428.4" fill="none" stroke="#c8c9cb" stroke-width="56" stroke-linejoin="round"/>
<path d="M1916.1,333.8 L1893.6,344.6 Q1853.0,364.0 1870.6,405.4 L1880.4,428.4" fill="none" stroke="#c8c9cb" stroke-width="56" stroke-linejoin="round"/>
<path d="M1161.6,695.3 L1184.1,684.5 Q1231.0,662.0 1250.6,705.8 L1260.8,728.6" fill="none" stroke="#c8c9cb" stroke-width="56" stroke-linejoin="round"/>
<path d="M1300.4,628.7 L1277.9,639.5 Q1231.0,662.0 1250.6,705.8 L1260.8,728.6" fill="none" stroke="#c8c9cb" stroke-width="56" stroke-linejoin="round"/>
<path d="M1468.3,548.1 L1490.8,537.3 Q1537.7,514.8 1557.6,558.5 L1568.0,581.2" fill="none" stroke="#c8c9cb" stroke-width="56" stroke-linejoin="round"/>
<path d="M1607.1,481.5 L1584.6,492.3 Q1537.7,514.8 1557.6,558.5 L1568.0,581.2" fill="none" stroke="#c8c9cb" stroke-width="56" stroke-linejoin="round"/>
<path d="M1461.5,1177.3 L1471.7,1200.1 Q1492.9,1247.6 1449.6,1268.3 L1427.0,1279.0" fill="none" stroke="#c8c9cb" stroke-width="56" stroke-linejoin="round"/>
<path d="M1461.5,1177.3 L1471.7,1200.1 Q1492.9,1247.6 1536.2,1226.9 L1558.8,1216.2" fill="none" stroke="#c8c9cb" stroke-width="56" stroke-linejoin="round"/>
<path d="M2100,245.5 L1031.9,757.2 A130 130 0 0 0 970,928.8 L1114.6,1243 A165 165 0 0 0 1335.1,1322.8 L2006.6,1002.4 A128 128 0 0 0 2067.2,832.2 L1949,580 L1853,364" fill="none" stroke="#fff" stroke-width="38" stroke-linejoin="round"/>
<path d="M2030,753 L2067.2,832.2 C2085,870 2072,935 2088,980 C2102,1022 2166,1079.5 2225,1052 L2400,970" fill="none" stroke="#fff" stroke-width="37" stroke-linejoin="round"/>
<path d="M1754.6,1122.6 L1870,1404" fill="none" stroke="#fff" stroke-width="40" stroke-linejoin="round"/>
<path d="M1231,662 L1492.9,1247.6" fill="none" stroke="#fff" stroke-width="56" stroke-linejoin="round"/>
<path d="M1537.7,514.8 L1804,1099" fill="none" stroke="#fff" stroke-width="52" stroke-linejoin="round"/>
<path d="M2022,994.5 L2040,986 C2075,970 2095,1020 2130,1040 C2160,1056 2190,1062 2225,1052" fill="none" stroke="#fff" stroke-width="36" stroke-linejoin="round"/>
<path d="M1660,1167.7 L1700,1148.6 Q1754.6,1122.6 1777.4,1178.1 L1790,1208.9" fill="none" stroke="#fff" stroke-width="38" stroke-linejoin="round"/>
<path d="M1790,1208.9 L1769.8,1159.6 Q1754.6,1122.6 1790.7,1105.4 L1830,1086.6" fill="none" stroke="#fff" stroke-width="38" stroke-linejoin="round"/>
<path d="M1789.9,394.2 L1812.4,383.4 Q1853.0,364.0 1870.6,405.4 L1880.4,428.4" fill="none" stroke="#fff" stroke-width="38" stroke-linejoin="round"/>
<path d="M1916.1,333.8 L1893.6,344.6 Q1853.0,364.0 1870.6,405.4 L1880.4,428.4" fill="none" stroke="#fff" stroke-width="38" stroke-linejoin="round"/>
<path d="M1161.6,695.3 L1184.1,684.5 Q1231.0,662.0 1250.6,705.8 L1260.8,728.6" fill="none" stroke="#fff" stroke-width="38" stroke-linejoin="round"/>
<path d="M1300.4,628.7 L1277.9,639.5 Q1231.0,662.0 1250.6,705.8 L1260.8,728.6" fill="none" stroke="#fff" stroke-width="38" stroke-linejoin="round"/>
<path d="M1468.3,548.1 L1490.8,537.3 Q1537.7,514.8 1557.6,558.5 L1568.0,581.2" fill="none" stroke="#fff" stroke-width="38" stroke-linejoin="round"/>
<path d="M1607.1,481.5 L1584.6,492.3 Q1537.7,514.8 1557.6,558.5 L1568.0,581.2" fill="none" stroke="#fff" stroke-width="38" stroke-linejoin="round"/>
<path d="M1461.5,1177.3 L1471.7,1200.1 Q1492.9,1247.6 1449.6,1268.3 L1427.0,1279.0" fill="none" stroke="#fff" stroke-width="38" stroke-linejoin="round"/>
<path d="M1461.5,1177.3 L1471.7,1200.1 Q1492.9,1247.6 1536.2,1226.9 L1558.8,1216.2" fill="none" stroke="#fff" stroke-width="38" stroke-linejoin="round"/>
<path d="M2100,245.5 L1031.9,757.2 A130 130 0 0 0 970,928.8 L1114.6,1243 A165 165 0 0 0 1335.1,1322.8 L2006.6,1002.4 A128 128 0 0 0 2067.2,832.2 L1949,580 L1853,364" fill="none" stroke="#9b9fa8" stroke-width="36" stroke-linejoin="round"/>
<path d="M2030,753 L2067.2,832.2 C2085,870 2072,935 2088,980 C2102,1022 2166,1079.5 2225,1052 L2400,970" fill="none" stroke="#9b9fa8" stroke-width="35" stroke-linejoin="round"/>
<path d="M1754.6,1122.6 L1870,1404" fill="none" stroke="#9b9fa8" stroke-width="38" stroke-linejoin="round"/>
<path d="M1231,662 L1492.9,1247.6" fill="none" stroke="#9b9fa8" stroke-width="54" stroke-linejoin="round"/>
<path d="M1537.7,514.8 L1804,1099" fill="none" stroke="#9b9fa8" stroke-width="50" stroke-linejoin="round"/>
<path d="M2022,994.5 L2040,986 C2075,970 2095,1020 2130,1040 C2160,1056 2190,1062 2225,1052" fill="none" stroke="#9b9fa8" stroke-width="34" stroke-linejoin="round"/>
<path d="M1660,1167.7 L1700,1148.6 Q1754.6,1122.6 1777.4,1178.1 L1790,1208.9" fill="none" stroke="#9b9fa8" stroke-width="36" stroke-linejoin="round"/>
<path d="M1790,1208.9 L1769.8,1159.6 Q1754.6,1122.6 1790.7,1105.4 L1830,1086.6" fill="none" stroke="#9b9fa8" stroke-width="36" stroke-linejoin="round"/>
<path d="M1789.9,394.2 L1812.4,383.4 Q1853.0,364.0 1870.6,405.4 L1880.4,428.4" fill="none" stroke="#9b9fa8" stroke-width="36" stroke-linejoin="round"/>
<path d="M1916.1,333.8 L1893.6,344.6 Q1853.0,364.0 1870.6,405.4 L1880.4,428.4" fill="none" stroke="#9b9fa8" stroke-width="36" stroke-linejoin="round"/>
<path d="M1161.6,695.3 L1184.1,684.5 Q1231.0,662.0 1250.6,705.8 L1260.8,728.6" fill="none" stroke="#9b9fa8" stroke-width="36" stroke-linejoin="round"/>
<path d="M1300.4,628.7 L1277.9,639.5 Q1231.0,662.0 1250.6,705.8 L1260.8,728.6" fill="none" stroke="#9b9fa8" stroke-width="36" stroke-linejoin="round"/>
<path d="M1468.3,548.1 L1490.8,537.3 Q1537.7,514.8 1557.6,558.5 L1568.0,581.2" fill="none" stroke="#9b9fa8" stroke-width="36" stroke-linejoin="round"/>
<path d="M1607.1,481.5 L1584.6,492.3 Q1537.7,514.8 1557.6,558.5 L1568.0,581.2" fill="none" stroke="#9b9fa8" stroke-width="36" stroke-linejoin="round"/>
<path d="M1461.5,1177.3 L1471.7,1200.1 Q1492.9,1247.6 1449.6,1268.3 L1427.0,1279.0" fill="none" stroke="#9b9fa8" stroke-width="36" stroke-linejoin="round"/>
<path d="M1461.5,1177.3 L1471.7,1200.1 Q1492.9,1247.6 1536.2,1226.9 L1558.8,1216.2" fill="none" stroke="#9b9fa8" stroke-width="36" stroke-linejoin="round"/>
<polygon points="2064.0,935.0 2090.0,930.0 2100.0,990.0 2080.0,1000.0 2062.0,985.0" fill="#9b9fa8"/>
<polygon points="1314.5,1351.4 1326.8,1358.8 1443.3,1303.3 1445.3,1289.0" fill="#9b9fa8"/>
<polygon points="1568.1,1230.4 1580.5,1237.8 1667.1,1196.5 1669.2,1182.2" fill="#9b9fa8"/>
<polygon points="1869.5,1086.7 1881.9,1094.0 1967.7,1053.1 1969.7,1038.9" fill="#9b9fa8"/>
<polygon points="1709.4,949.3 1701.8,961.6 1734.2,1032.6 1748.4,1034.9" fill="#9b9fa8"/>
<polygon points="1252.5,586.2 1312.5,558.8 1321.2,577.5 1262.5,605.0" fill="#88ab86"/>
<polygon points="1358.8,531.2 1411.2,506.2 1421.2,528.8 1370.0,553.8" fill="#88ab86"/>
<polygon points="1467.5,467.5 1501.2,452.5 1512.5,475.0 1480.0,491.2" fill="#88ab86"/>
<polygon points="1567.5,428.8 1621.2,405.0 1630.0,431.2 1580.0,456.2" fill="#88ab86"/>
<polygon points="1670.0,391.2 1732.5,362.5 1741.2,382.5 1678.8,408.8" fill="#88ab86"/>
<polygon points="1136.6,640.8 1154.6,633.3 1160.6,651.3 1143.2,659.4" fill="#88ab86"/>
<polygon points="1156.1,630.3 1192.1,613.8 1200.2,633.3 1166.6,651.3" fill="#88ab86"/>
<polygon points="1196.6,612.3 1211.6,606.3 1219.1,624.3 1204.1,631.8" fill="#88ab86"/>
<polygon points="1785.0,317.5 1822.5,301.2 1830.0,315.0 1793.8,332.5" fill="#88ab86"/>
<polygon points="1855.0,265.0 1871.2,261.2 1873.0,272.5 1859.5,276.5" fill="#88ab86"/>
<polygon points="1880.0,257.5 1903.8,247.5 1905.5,257.5 1883.8,266.5" fill="#88ab86"/>
<polygon points="1910.0,242.5 1918.8,240.0 1921.2,250.0 1912.5,252.5" fill="#88ab86"/>
<polygon points="1941.2,231.2 1965.0,222.5 1966.5,228.0 1945.0,237.5" fill="#88ab86"/>
<polygon points="1972.5,217.5 2005.0,205.0 2006.5,210.5 1975.0,223.0" fill="#88ab86"/>
<polygon points="1995.0,332.5 2020.0,321.2 2021.5,325.0 1996.5,335.8" fill="#88ab86"/>
<polygon points="2027.5,316.2 2045.0,308.8 2046.5,312.5 2029.0,320.0" fill="#88ab86"/>
<polygon points="1900.0,387.5 1907.5,382.5 1947.5,357.5 1949.2,363.8 1909.2,383.0 1923.0,412.5 1910.0,416.2 1900.0,396.2" fill="#88ab86"/>
<polygon points="1912.5,430.0 1927.5,423.8 1933.8,435.0 1922.5,435.0" fill="#88ab86"/>
<polygon points="1973.8,496.2 2017.5,478.8 2019.0,482.5 1975.2,501.5" fill="#88ab86"/>
<polygon points="1998.8,537.5 2013.8,531.2 2023.8,556.2 2007.5,563.8" fill="#88ab86"/>
<polygon points="2033.8,601.2 2051.2,593.8 2065.0,620.0 2047.5,628.8" fill="#88ab86"/>
<polygon points="2051.2,641.2 2067.5,633.8 2080.0,657.5 2065.0,665.0" fill="#88ab86"/>
<polygon points="2075.0,713.8 2095.0,705.0 2100.0,717.5 2082.5,727.5" fill="#88ab86"/>
<polygon points="2116.2,776.2 2128.8,770.0 2140.0,795.0 2128.8,800.0" fill="#88ab86"/>
<polygon points="2133.8,812.5 2146.2,807.5 2157.5,832.5 2146.2,837.5" fill="#88ab86"/>
<polygon points="2126.2,901.2 2162.5,885.0 2166.2,892.5 2132.5,907.5" fill="#88ab86"/>
<polygon points="1898.8,562.5 1902.5,561.2 1937.5,633.8 1932.5,636.2" fill="#88ab86"/>
<polygon points="1947.5,671.2 1955.0,668.8 1983.8,732.5 1976.2,735.0" fill="#88ab86"/>
<polygon points="1781.2,437.5 1800.0,427.5 1830.0,420.0 1840.0,427.5 1852.5,453.8 1822.5,467.5 1795.0,462.5" fill="#88ab86"/>
<polygon points="1826.2,480.0 1856.2,466.2 1867.5,491.2 1855.0,497.5 1866.2,522.5 1852.5,530.0" fill="#88ab86"/>
<polygon points="1083.8,1083.2 1093.8,1079.5 1120.0,1140.8 1111.2,1145.8" fill="#88ab86"/>
<polygon points="1360.0,1222.0 1393.8,1205.8 1397.5,1213.2 1363.8,1228.2" fill="#88ab86"/>
<polygon points="1405.0,1199.5 1450.0,1178.2 1453.8,1187.0 1410.0,1207.0" fill="#88ab86"/>
<polygon points="1246.2,1257.0 1270.0,1247.0 1276.2,1267.0 1255.0,1275.8" fill="#88ab86"/>
<polygon points="810.0,958.8 831.2,950.0 833.8,956.2 812.5,965.5" fill="#88ab86"/>
<polygon points="840.0,943.8 875.0,928.8 878.0,936.2 843.8,951.2" fill="#88ab86"/>
<polygon points="885.0,922.5 906.2,913.8 908.8,920.0 887.5,928.8" fill="#88ab86"/>
<polygon points="915.0,908.8 925.0,904.5 932.5,920.0 928.8,922.5" fill="#88ab86"/>
<polygon points="931.3,608.4 937.3,604.8 993.3,725.3 988.2,737.3" fill="#88ab86"/>
<polygon points="988.2,730.7 1121.6,669.3 1124.6,675.3 992.7,738.2" fill="#88ab86"/>
<polygon points="991.2,887.5 993.0,852.5 1010.0,817.5 1040.0,793.8 1081.2,772.5 1093.8,801.2 1075.0,810.0 1076.2,817.5 1013.8,845.0" fill="#88ab86"/>
<polygon points="1112.5,753.0 1136.2,742.5 1139.5,749.5 1124.5,757.0 1152.5,828.8 1146.2,831.2" fill="#88ab86"/>
<polygon points="1142.5,737.5 1166.2,727.5 1169.5,734.5 1146.2,745.0" fill="#88ab86"/>
<polygon points="1173.8,723.8 1200.0,712.5 1220.0,747.5 1210.0,752.5 1187.5,730.0 1176.2,731.2" fill="#88ab86"/>
<polygon points="993.8,897.5 1033.8,880.0 1045.0,902.5 1003.8,918.8" fill="#88ab86"/>
<polygon points="1267.5,677.5 1306.2,660.0 1308.8,666.2 1301.2,677.5 1322.5,726.2 1315.0,730.0 1296.2,687.5 1272.5,695.0" fill="#88ab86"/>
<polygon points="1312.5,655.0 1347.5,640.0 1350.5,647.0 1315.5,662.5" fill="#88ab86"/>
<polygon points="1353.8,636.2 1360.0,633.8 1365.0,645.0 1358.8,647.5" fill="#88ab86"/>
<polygon points="1397.5,616.2 1403.8,613.8 1408.0,623.8 1402.0,626.2" fill="#88ab86"/>
<polygon points="1411.2,610.0 1446.2,593.8 1449.5,600.8 1414.5,617.0" fill="#88ab86"/>
<polygon points="1452.5,591.2 1477.5,580.0 1480.5,587.0 1455.5,598.2" fill="#88ab86"/>
<polygon points="1483.8,575.0 1521.2,558.0 1543.8,566.2 1551.2,590.0 1520.0,605.0 1515.0,610.0 1498.8,585.0 1487.5,582.5" fill="#88ab86"/>
<polygon points="1575.0,525.0 1615.0,512.5 1618.8,520.0 1610.0,526.2 1595.0,567.5 1585.0,571.2" fill="#88ab86"/>
<polygon points="1622.5,508.8 1647.5,498.8 1650.0,505.0 1626.2,515.8" fill="#88ab86"/>
<polygon points="1676.2,498.8 1682.5,496.2 1715.0,560.0 1707.5,562.5" fill="#88ab86"/>
<polygon points="1695.0,515.0 1758.8,487.5 1761.2,493.8 1697.5,521.2" fill="#88ab86"/>
<polygon points="1343.8,786.2 1437.5,751.2 1440.0,755.0 1347.5,792.5" fill="#88ab86"/>
<polygon points="1490.0,726.2 1562.5,695.0 1565.0,700.0 1492.5,731.2" fill="#88ab86"/>
<polygon points="1655.0,640.0 1727.5,612.5 1730.0,617.5 1660.0,645.0" fill="#88ab86"/>
<polygon points="1800.0,1013.8 1841.2,997.0 1855.5,1027.5 1815.0,1046.2" fill="#88ab86"/>
<polygon points="1853.8,981.2 1883.8,967.5 1887.5,976.2 1857.5,990.0" fill="#88ab86"/>
<polygon points="1890.0,963.8 1933.8,945.0 1935.5,950.0 1892.5,970.0" fill="#88ab86"/>
<polygon points="1760.0,933.8 1767.5,930.0 1810.0,1017.5 1800.0,1022.5" fill="#88ab86"/>
<polygon points="1638.3,1100.0 1733.3,1056.7 1748.3,1085.0 1653.3,1128.3" fill="#88ab86"/>
<polygon points="1530.0,1155.0 1603.3,1121.7 1616.7,1145.0 1546.7,1178.3" fill="#88ab86"/>
<polygon points="1463.3,1026.7 1473.3,1023.3 1533.3,1150.0 1521.7,1155.0" fill="#88ab86"/>
<polygon points="1696.7,953.3 1705.0,950.0 1763.3,1073.3 1750.0,1076.7" fill="#88ab86"/>
<path d="M1275.0,1492.5 C1273.3,1485.0 1275.8,1468.8 1277.5,1460.0 C1279.2,1451.2 1280.0,1445.0 1285.0,1440.0 C1290.0,1435.0 1292.5,1435.8 1307.5,1430.0 C1322.5,1424.2 1326.2,1426.2 1375.0,1405.0 C1423.8,1383.8 1544.6,1327.5 1600.0,1302.5 C1655.4,1277.5 1686.3,1261.8 1707.5,1255.0 C1728.7,1248.2 1722.2,1257.0 1727.0,1262.0 C1731.8,1267.0 1734.0,1277.0 1736.0,1285.0 C1738.0,1293.0 1739.4,1301.2 1738.8,1310.0 C1738.2,1318.8 1735.6,1331.2 1732.5,1337.5 C1729.4,1343.8 1731.7,1343.4 1720.0,1348.0 C1708.3,1352.6 1675.8,1359.2 1662.5,1365.0 C1649.2,1370.8 1650.4,1372.2 1640.0,1382.5 C1629.6,1392.8 1613.3,1416.2 1600.0,1427.0 C1586.7,1437.8 1585.0,1439.5 1560.0,1447.5 C1535.0,1455.5 1490.0,1465.6 1450.0,1475.0 C1410.0,1484.4 1347.1,1498.8 1320.0,1503.8 C1292.9,1508.8 1295.0,1506.9 1287.5,1505.0 C1280.0,1503.1 1276.7,1500.0 1275.0,1492.5Z" fill="#8ad3e3"/>
<path d="M2152.5,1140.0 C2152.2,1133.4 2152.1,1127.9 2155.0,1122.5 C2157.9,1117.1 2157.5,1114.2 2170.0,1107.5 C2182.5,1100.8 2209.6,1090.6 2230.0,1082.5 C2250.4,1074.4 2277.9,1063.0 2292.5,1058.8 C2307.1,1054.6 2310.4,1056.6 2317.5,1057.5 C2324.6,1058.4 2329.6,1060.0 2335.0,1064.0 C2340.4,1068.0 2344.4,1073.9 2350.2,1081.2 C2356.0,1088.5 2363.9,1101.0 2369.6,1107.8 C2375.3,1114.6 2378.1,1118.0 2384.2,1122.3 C2390.3,1126.5 2398.3,1132.5 2406.0,1133.3 C2413.7,1134.1 2420.9,1130.2 2430.2,1127.2 C2439.5,1124.2 2453.6,1117.7 2461.7,1115.1 C2469.8,1112.5 2472.6,1111.4 2478.7,1111.4 C2484.8,1111.4 2491.1,1111.2 2498.0,1115.1 C2504.9,1119.0 2515.5,1127.5 2520.0,1135.0 C2524.5,1142.5 2524.6,1152.8 2525.0,1160.0 C2525.4,1167.2 2524.8,1172.7 2522.3,1178.1 C2519.8,1183.5 2515.4,1188.6 2510.2,1192.6 C2504.9,1196.6 2509.0,1193.8 2490.8,1202.3 C2472.6,1210.8 2422.9,1235.9 2401.1,1243.5 C2379.3,1251.1 2369.3,1249.4 2360.0,1248.0 C2350.7,1246.6 2351.9,1245.5 2345.4,1235.0 C2338.9,1224.5 2327.7,1196.8 2321.2,1185.3 C2314.7,1173.8 2311.8,1170.8 2306.6,1166.0 C2301.3,1161.2 2296.2,1158.1 2289.7,1156.3 C2283.2,1154.5 2280.7,1151.2 2267.8,1155.0 C2254.9,1158.8 2225.1,1174.6 2212.1,1179.3 C2199.1,1184.0 2197.0,1183.4 2190.0,1183.0 C2183.0,1182.6 2175.5,1180.5 2170.0,1177.0 C2164.5,1173.5 2159.9,1168.2 2157.0,1162.0 C2154.1,1155.8 2152.8,1146.6 2152.5,1140.0Z" fill="#8ad3e3"/>
<polygon points="1938.8,1091.2 2055.0,1038.8 2107.5,1155.0 1992.5,1207.5" fill="#c8c9cb" stroke="#fff" stroke-width="1"/>
<polyline points="1314.9,1352.3 1445.8,1289.9" stroke="#fff" stroke-width="1" stroke-dasharray="1.5 1.8" fill="none"/>
<line x1="1350.3" y1="1335.4" x2="1355.0" y2="1345.3" stroke="#fff" stroke-width="1" stroke-dasharray="1.5 1.8"/>
<line x1="1380.3" y1="1321.1" x2="1385.1" y2="1331.0" stroke="#fff" stroke-width="1" stroke-dasharray="1.5 1.8"/>
<line x1="1410.3" y1="1306.8" x2="1415.1" y2="1316.7" stroke="#fff" stroke-width="1" stroke-dasharray="1.5 1.8"/>
<text transform="translate(1337.7,1347.5) rotate(-25.5)" y="2" font-family='"Liberation Sans", sans-serif' font-size="5.5" text-anchor="middle" fill="#e4e6ea">VP</text>
<text transform="translate(1367.7,1333.2) rotate(-25.5)" y="2" font-family='"Liberation Sans", sans-serif' font-size="5.5" text-anchor="middle" fill="#e4e6ea">VP</text>
<text transform="translate(1397.7,1318.9) rotate(-25.5)" y="2" font-family='"Liberation Sans", sans-serif' font-size="5.5" text-anchor="middle" fill="#e4e6ea">VP</text>
<text transform="translate(1427.7,1304.6) rotate(-25.5)" y="2" font-family='"Liberation Sans", sans-serif' font-size="5.5" text-anchor="middle" fill="#e4e6ea">VP</text>
<polyline points="1568.5,1231.3 1669.6,1183.1" stroke="#fff" stroke-width="1" stroke-dasharray="1.5 1.8" fill="none"/>
<line x1="1604.0" y1="1214.4" x2="1608.7" y2="1224.3" stroke="#fff" stroke-width="1" stroke-dasharray="1.5 1.8"/>
<line x1="1634.1" y1="1200.1" x2="1638.8" y2="1210.0" stroke="#fff" stroke-width="1" stroke-dasharray="1.5 1.8"/>
<text transform="translate(1591.3,1226.6) rotate(-25.5)" y="2" font-family='"Liberation Sans", sans-serif' font-size="5.5" text-anchor="middle" fill="#e4e6ea">VP</text>
<text transform="translate(1621.4,1212.2) rotate(-25.5)" y="2" font-family='"Liberation Sans", sans-serif' font-size="5.5" text-anchor="middle" fill="#e4e6ea">VP</text>
<text transform="translate(1651.5,1197.9) rotate(-25.5)" y="2" font-family='"Liberation Sans", sans-serif' font-size="5.5" text-anchor="middle" fill="#e4e6ea">VP</text>
<polyline points="1870.0,1087.6 1970.2,1039.8" stroke="#fff" stroke-width="1" stroke-dasharray="1.5 1.8" fill="none"/>
<line x1="1905.2" y1="1070.8" x2="1909.9" y2="1080.7" stroke="#fff" stroke-width="1" stroke-dasharray="1.5 1.8"/>
<line x1="1935.0" y1="1056.6" x2="1939.7" y2="1066.5" stroke="#fff" stroke-width="1" stroke-dasharray="1.5 1.8"/>
<text transform="translate(1892.6,1082.8) rotate(-25.5)" y="2" font-family='"Liberation Sans", sans-serif' font-size="5.5" text-anchor="middle" fill="#e4e6ea">VP</text>
<text transform="translate(1922.4,1068.6) rotate(-25.5)" y="2" font-family='"Liberation Sans", sans-serif' font-size="5.5" text-anchor="middle" fill="#e4e6ea">VP</text>
<text transform="translate(1952.2,1054.4) rotate(-25.5)" y="2" font-family='"Liberation Sans", sans-serif' font-size="5.5" text-anchor="middle" fill="#e4e6ea">VP</text>
<polyline points="1708.5,949.8 1747.5,1035.3" stroke="#fff" stroke-width="1" stroke-dasharray="1.5 1.8" fill="none"/>
<line x1="1722.3" y1="980.1" x2="1712.3" y2="984.6" stroke="#fff" stroke-width="1" stroke-dasharray="1.5 1.8"/>
<line x1="1733.7" y1="1005.0" x2="1723.6" y2="1009.5" stroke="#fff" stroke-width="1" stroke-dasharray="1.5 1.8"/>
<text transform="translate(1711.6,969.9) rotate(65.5)" y="2" font-family='"Liberation Sans", sans-serif' font-size="5.5" text-anchor="middle" fill="#e4e6ea">VP</text>
<text transform="translate(1723.0,994.8) rotate(65.5)" y="2" font-family='"Liberation Sans", sans-serif' font-size="5.5" text-anchor="middle" fill="#e4e6ea">VP</text>
<text transform="translate(1734.3,1019.7) rotate(65.5)" y="2" font-family='"Liberation Sans", sans-serif' font-size="5.5" text-anchor="middle" fill="#e4e6ea">VP</text>
<text transform="translate(1219.9,571.1) rotate(-18)" font-family='"Liberation Sans", sans-serif' font-size="5.6" text-anchor="middle" fill="#8b8e98">39</text>
<text transform="translate(1220.2,599.2) rotate(-18)" font-family='"Liberation Sans", sans-serif' font-size="5.6" text-anchor="middle" fill="#8b8e98">39</text>
<text transform="translate(1318.2,525.2) rotate(-18)" font-family='"Liberation Sans", sans-serif' font-size="5.6" text-anchor="middle" fill="#8b8e98">38</text>
<text transform="translate(1338.5,544.0) rotate(-18)" font-family='"Liberation Sans", sans-serif' font-size="5.6" text-anchor="middle" fill="#8b8e98">38</text>
<text transform="translate(1326.8,518.1) rotate(-18)" font-family='"Liberation Sans", sans-serif' font-size="5.6" text-anchor="middle" fill="#8b8e98">37</text>
<text transform="translate(1327.5,545.3) rotate(-18)" font-family='"Liberation Sans", sans-serif' font-size="5.6" text-anchor="middle" fill="#8b8e98">37</text>
<text transform="translate(1415.9,477.4) rotate(-18)" font-family='"Liberation Sans", sans-serif' font-size="5.6" text-anchor="middle" fill="#8b8e98">36</text>
<text transform="translate(1434.5,496.4) rotate(-18)" font-family='"Liberation Sans", sans-serif' font-size="5.6" text-anchor="middle" fill="#8b8e98">36</text>
<text transform="translate(1538.8,417.1) rotate(-18)" font-family='"Liberation Sans", sans-serif' font-size="5.6" text-anchor="middle" fill="#8b8e98">33</text>
<text transform="translate(1540.3,442.6) rotate(-18)" font-family='"Liberation Sans", sans-serif' font-size="5.6" text-anchor="middle" fill="#8b8e98">33</text>
<text transform="translate(1625.1,377.4) rotate(-18)" font-family='"Liberation Sans", sans-serif' font-size="5.6" text-anchor="middle" fill="#8b8e98">32</text>
<text transform="translate(1644.0,394.9) rotate(-18)" font-family='"Liberation Sans", sans-serif' font-size="5.6" text-anchor="middle" fill="#8b8e98">32</text>
<text transform="translate(1636.5,373.6) rotate(-18)" font-family='"Liberation Sans", sans-serif' font-size="5.6" text-anchor="middle" fill="#8b8e98">31</text>
<text transform="translate(1637.0,401.7) rotate(-18)" font-family='"Liberation Sans", sans-serif' font-size="5.6" text-anchor="middle" fill="#8b8e98">31</text>
<text transform="translate(1734.8,327.7) rotate(-18)" font-family='"Liberation Sans", sans-serif' font-size="5.6" text-anchor="middle" fill="#8b8e98">30</text>
<text transform="translate(1755.3,346.5) rotate(-18)" font-family='"Liberation Sans", sans-serif' font-size="5.6" text-anchor="middle" fill="#8b8e98">30</text>
<text transform="translate(1834.3,256.1) rotate(-18)" font-family='"Liberation Sans", sans-serif' font-size="5.6" text-anchor="middle" fill="#8b8e98">27</text>
<text transform="translate(1834.0,277.7) rotate(-18)" font-family='"Liberation Sans", sans-serif' font-size="5.6" text-anchor="middle" fill="#8b8e98">27</text>
<text transform="translate(1919.5,219.2) rotate(-18)" font-family='"Liberation Sans", sans-serif' font-size="5.6" text-anchor="middle" fill="#8b8e98">26</text>
<text transform="translate(1936.5,233.3) rotate(-18)" font-family='"Liberation Sans", sans-serif' font-size="5.6" text-anchor="middle" fill="#8b8e98">26</text>
<text transform="translate(1985.7,387.5) rotate(-18)" font-family='"Liberation Sans", sans-serif' font-size="5.6" text-anchor="middle" fill="#8b8e98">21</text>
<text transform="translate(1984.4,414.8) rotate(-18)" font-family='"Liberation Sans", sans-serif' font-size="5.6" text-anchor="middle" fill="#8b8e98">21</text>
<text transform="translate(2079.6,349.5) rotate(-18)" font-family='"Liberation Sans", sans-serif' font-size="5.6" text-anchor="middle" fill="#8b8e98">20</text>
<text transform="translate(2097.3,369.1) rotate(-18)" font-family='"Liberation Sans", sans-serif' font-size="5.6" text-anchor="middle" fill="#8b8e98">20</text>
<text transform="translate(1912.8,431.9) rotate(-18)" font-family='"Liberation Sans", sans-serif' font-size="5.6" text-anchor="middle" fill="#8b8e98">22</text>
<text transform="translate(1913.1,461.3) rotate(-18)" font-family='"Liberation Sans", sans-serif' font-size="5.6" text-anchor="middle" fill="#8b8e98">22</text>
<text transform="translate(2008.3,494.9) rotate(-18)" font-family='"Liberation Sans", sans-serif' font-size="5.6" text-anchor="middle" fill="#8b8e98">19</text>
<text transform="translate(1981.7,496.5) rotate(-18)" font-family='"Liberation Sans", sans-serif' font-size="5.6" text-anchor="middle" fill="#8b8e98">19</text>
<text transform="translate(2049.7,582.9) rotate(-18)" font-family='"Liberation Sans", sans-serif' font-size="5.6" text-anchor="middle" fill="#8b8e98">18</text>
<text transform="translate(2031.5,602.3) rotate(-18)" font-family='"Liberation Sans", sans-serif' font-size="5.6" text-anchor="middle" fill="#8b8e98">18</text>
<text transform="translate(2062.7,575.8) rotate(-18)" font-family='"Liberation Sans", sans-serif' font-size="5.6" text-anchor="middle" fill="#8b8e98">17</text>
<text transform="translate(2035.8,577.2) rotate(-18)" font-family='"Liberation Sans", sans-serif' font-size="5.6" text-anchor="middle" fill="#8b8e98">17</text>
<text transform="translate(2103.1,663.8) rotate(-18)" font-family='"Liberation Sans", sans-serif' font-size="5.6" text-anchor="middle" fill="#8b8e98">16</text>
<text transform="translate(2084.4,683.0) rotate(-18)" font-family='"Liberation Sans", sans-serif' font-size="5.6" text-anchor="middle" fill="#8b8e98">16</text>
<text transform="translate(2091.9,668.6) rotate(-18)" font-family='"Liberation Sans", sans-serif' font-size="5.6" text-anchor="middle" fill="#8b8e98">15</text>
<text transform="translate(2065.3,670.2) rotate(-18)" font-family='"Liberation Sans", sans-serif' font-size="5.6" text-anchor="middle" fill="#8b8e98">15</text>
<text transform="translate(2131.6,756.6) rotate(-18)" font-family='"Liberation Sans", sans-serif' font-size="5.6" text-anchor="middle" fill="#8b8e98">14</text>
<text transform="translate(2113.0,776.0) rotate(-18)" font-family='"Liberation Sans", sans-serif' font-size="5.6" text-anchor="middle" fill="#8b8e98">14</text>
<text transform="translate(2139.5,751.9) rotate(-18)" font-family='"Liberation Sans", sans-serif' font-size="5.6" text-anchor="middle" fill="#8b8e98">13</text>
<text transform="translate(2114.5,752.4) rotate(-18)" font-family='"Liberation Sans", sans-serif' font-size="5.6" text-anchor="middle" fill="#8b8e98">13</text>
<text transform="translate(2179.2,839.9) rotate(-18)" font-family='"Liberation Sans", sans-serif' font-size="5.6" text-anchor="middle" fill="#8b8e98">12</text>
<text transform="translate(2162.2,858.2) rotate(-18)" font-family='"Liberation Sans", sans-serif' font-size="5.6" text-anchor="middle" fill="#8b8e98">12</text>
<text transform="translate(2173.3,839.9) rotate(-18)" font-family='"Liberation Sans", sans-serif' font-size="5.6" text-anchor="middle" fill="#8b8e98">11</text>
<text transform="translate(2146.0,841.1) rotate(-18)" font-family='"Liberation Sans", sans-serif' font-size="5.6" text-anchor="middle" fill="#8b8e98">11</text>
<text transform="translate(2171.6,908.3) rotate(-18)" font-family='"Liberation Sans", sans-serif' font-size="5.6" text-anchor="middle" fill="#8b8e98">10</text>
<text transform="translate(2145.2,909.7) rotate(-18)" font-family='"Liberation Sans", sans-serif' font-size="5.6" text-anchor="middle" fill="#8b8e98">10</text>
<text transform="translate(2211.0,996.3) rotate(-18)" font-family='"Liberation Sans", sans-serif' font-size="5.6" text-anchor="middle" fill="#8b8e98">9</text>
<text transform="translate(2192.5,1015.5) rotate(-18)" font-family='"Liberation Sans", sans-serif' font-size="5.6" text-anchor="middle" fill="#8b8e98">9</text>
<text transform="translate(1943.7,910.6) rotate(-18)" font-family='"Liberation Sans", sans-serif' font-size="5.6" text-anchor="middle" fill="#8b8e98">97</text>
<text transform="translate(1943.8,935.2) rotate(-18)" font-family='"Liberation Sans", sans-serif' font-size="5.6" text-anchor="middle" fill="#8b8e98">97</text>
<text transform="translate(2036.5,869.2) rotate(-18)" font-family='"Liberation Sans", sans-serif' font-size="5.6" text-anchor="middle" fill="#8b8e98">98</text>
<text transform="translate(2055.4,885.5) rotate(-18)" font-family='"Liberation Sans", sans-serif' font-size="5.6" text-anchor="middle" fill="#8b8e98">98</text>
<text transform="translate(1608.1,813.7) rotate(-18)" font-family='"Liberation Sans", sans-serif' font-size="5.6" text-anchor="middle" fill="#8b8e98">91</text>
<text transform="translate(1578.4,815.1) rotate(-18)" font-family='"Liberation Sans", sans-serif' font-size="5.6" text-anchor="middle" fill="#8b8e98">91</text>
<text transform="translate(1651.2,910.3) rotate(-18)" font-family='"Liberation Sans", sans-serif' font-size="5.6" text-anchor="middle" fill="#8b8e98">92</text>
<text transform="translate(1630.3,931.4) rotate(-18)" font-family='"Liberation Sans", sans-serif' font-size="5.6" text-anchor="middle" fill="#8b8e98">92</text>
<text transform="translate(1408.2,906.8) rotate(-18)" font-family='"Liberation Sans", sans-serif' font-size="5.6" text-anchor="middle" fill="#8b8e98">81</text>
<text transform="translate(1380.0,907.9) rotate(-18)" font-family='"Liberation Sans", sans-serif' font-size="5.6" text-anchor="middle" fill="#8b8e98">81</text>
<text transform="translate(1453.0,1005.2) rotate(-18)" font-family='"Liberation Sans", sans-serif' font-size="5.6" text-anchor="middle" fill="#8b8e98">80</text>
<text transform="translate(1434.0,1026.2) rotate(-18)" font-family='"Liberation Sans", sans-serif' font-size="5.6" text-anchor="middle" fill="#8b8e98">80</text>
<text transform="translate(1619.0,1092.8) rotate(-18)" font-family='"Liberation Sans", sans-serif' font-size="5.6" text-anchor="middle" fill="#8b8e98">77</text>
<text transform="translate(1619.4,1118.0) rotate(-18)" font-family='"Liberation Sans", sans-serif' font-size="5.6" text-anchor="middle" fill="#8b8e98">77</text>
<text transform="translate(1740.5,1038.9) rotate(-18)" font-family='"Liberation Sans", sans-serif' font-size="5.6" text-anchor="middle" fill="#8b8e98">79</text>
<text transform="translate(1759.0,1056.1) rotate(-18)" font-family='"Liberation Sans", sans-serif' font-size="5.6" text-anchor="middle" fill="#8b8e98">79</text>
<text transform="translate(1692.1,1093.6) rotate(-18)" font-family='"Liberation Sans", sans-serif' font-size="5.6" text-anchor="middle" fill="#8b8e98">78</text>
<text transform="translate(1707.5,1102.0) rotate(-18)" font-family='"Liberation Sans", sans-serif' font-size="5.6" text-anchor="middle" fill="#8b8e98">78</text>
<text transform="translate(1787.9,991.6) rotate(-18)" font-family='"Liberation Sans", sans-serif' font-size="5.6" text-anchor="middle" fill="#8b8e98">93</text>
<text transform="translate(1788.2,1018.4) rotate(-18)" font-family='"Liberation Sans", sans-serif' font-size="5.6" text-anchor="middle" fill="#8b8e98">93</text>
<text transform="translate(1882.4,950.2) rotate(-18)" font-family='"Liberation Sans", sans-serif' font-size="5.6" text-anchor="middle" fill="#8b8e98">94</text>
<text transform="translate(1902.0,968.6) rotate(-18)" font-family='"Liberation Sans", sans-serif' font-size="5.6" text-anchor="middle" fill="#8b8e98">94</text>
<text transform="translate(1856.4,961.6) rotate(-18)" font-family='"Liberation Sans", sans-serif' font-size="5.6" text-anchor="middle" fill="#8b8e98">95</text>
<text transform="translate(1856.7,988.4) rotate(-18)" font-family='"Liberation Sans", sans-serif' font-size="5.6" text-anchor="middle" fill="#8b8e98">95</text>
<text transform="translate(1950.9,920.2) rotate(-18)" font-family='"Liberation Sans", sans-serif' font-size="5.6" text-anchor="middle" fill="#8b8e98">96</text>
<text transform="translate(1970.5,938.6) rotate(-18)" font-family='"Liberation Sans", sans-serif' font-size="5.6" text-anchor="middle" fill="#8b8e98">96</text>
<text transform="translate(1914.7,677.2) rotate(-18)" font-family='"Liberation Sans", sans-serif' font-size="5.6" text-anchor="middle" fill="#8b8e98">109</text>
<text transform="translate(1888.6,679.0) rotate(-18)" font-family='"Liberation Sans", sans-serif' font-size="5.6" text-anchor="middle" fill="#8b8e98">109</text>
<text transform="translate(1956.1,760.0) rotate(-18)" font-family='"Liberation Sans", sans-serif' font-size="5.6" text-anchor="middle" fill="#8b8e98">110</text>
<text transform="translate(1938.4,778.5) rotate(-18)" font-family='"Liberation Sans", sans-serif' font-size="5.6" text-anchor="middle" fill="#8b8e98">110</text>
<text transform="translate(1111.8,1066.1) rotate(-18)" font-family='"Liberation Sans", sans-serif' font-size="5.6" text-anchor="middle" fill="#8b8e98">64</text>
<text transform="translate(1090.4,1066.6) rotate(-18)" font-family='"Liberation Sans", sans-serif' font-size="5.6" text-anchor="middle" fill="#8b8e98">64</text>
<text transform="translate(1146.2,1143.7) rotate(-18)" font-family='"Liberation Sans", sans-serif' font-size="5.6" text-anchor="middle" fill="#8b8e98">63</text>
<text transform="translate(1131.9,1160.0) rotate(-18)" font-family='"Liberation Sans", sans-serif' font-size="5.6" text-anchor="middle" fill="#8b8e98">63</text>
<text transform="translate(1063.9,1261.0) rotate(-18)" font-family='"Liberation Sans", sans-serif' font-size="5.6" text-anchor="middle" fill="#8b8e98">54</text>
<text transform="translate(1036.4,1263.0) rotate(-18)" font-family='"Liberation Sans", sans-serif' font-size="5.6" text-anchor="middle" fill="#8b8e98">54</text>
<text transform="translate(1101.8,1348.3) rotate(-18)" font-family='"Liberation Sans", sans-serif' font-size="5.6" text-anchor="middle" fill="#8b8e98">55</text>
<text transform="translate(1082.1,1368.0) rotate(-18)" font-family='"Liberation Sans", sans-serif' font-size="5.6" text-anchor="middle" fill="#8b8e98">55</text>
<text transform="translate(1058.3,1415.5) rotate(-18)" font-family='"Liberation Sans", sans-serif' font-size="5.6" text-anchor="middle" fill="#8b8e98">56</text>
<text transform="translate(1049.4,1440.8) rotate(-18)" font-family='"Liberation Sans", sans-serif' font-size="5.6" text-anchor="middle" fill="#8b8e98">56</text>
<text transform="translate(1182.0,1271.3) rotate(-18)" font-family='"Liberation Sans", sans-serif' font-size="5.6" text-anchor="middle" fill="#8b8e98">57</text>
<text transform="translate(1181.5,1296.0) rotate(-18)" font-family='"Liberation Sans", sans-serif' font-size="5.6" text-anchor="middle" fill="#8b8e98">57</text>
<text transform="translate(1275.2,1229.9) rotate(-18)" font-family='"Liberation Sans", sans-serif' font-size="5.6" text-anchor="middle" fill="#8b8e98">58</text>
<text transform="translate(1293.6,1246.2) rotate(-18)" font-family='"Liberation Sans", sans-serif' font-size="5.6" text-anchor="middle" fill="#8b8e98">58</text>
<text transform="translate(1266.9,1236.7) rotate(-18)" font-family='"Liberation Sans", sans-serif' font-size="5.6" text-anchor="middle" fill="#8b8e98">59</text>
<text transform="translate(1265.3,1261.7) rotate(-18)" font-family='"Liberation Sans", sans-serif' font-size="5.6" text-anchor="middle" fill="#8b8e98">59</text>
<text transform="translate(1370.4,1191.2) rotate(-18)" font-family='"Liberation Sans", sans-serif' font-size="5.6" text-anchor="middle" fill="#8b8e98">60</text>
<text transform="translate(1389.8,1206.9) rotate(-18)" font-family='"Liberation Sans", sans-serif' font-size="5.6" text-anchor="middle" fill="#8b8e98">60</text>
<text transform="translate(1343.5,1203.7) rotate(-18)" font-family='"Liberation Sans", sans-serif' font-size="5.6" text-anchor="middle" fill="#8b8e98">61</text>
<text transform="translate(1343.2,1228.6) rotate(-18)" font-family='"Liberation Sans", sans-serif' font-size="5.6" text-anchor="middle" fill="#8b8e98">61</text>
<text transform="translate(1435.0,1162.3) rotate(-18)" font-family='"Liberation Sans", sans-serif' font-size="5.6" text-anchor="middle" fill="#8b8e98">62</text>
<text transform="translate(1453.2,1178.8) rotate(-18)" font-family='"Liberation Sans", sans-serif' font-size="5.6" text-anchor="middle" fill="#8b8e98">62</text>
<text transform="translate(1256.2,817.5) rotate(-18)" y="2" font-family='"Liberation Sans", sans-serif' font-size="5.6" text-anchor="middle" fill="#8b8e98">VP</text>
<text transform="translate(1311.2,753.8) rotate(-18)" y="2" font-family='"Liberation Sans", sans-serif' font-size="5.6" text-anchor="middle" fill="#8b8e98">VP</text>
<text transform="translate(1318.8,768.8) rotate(-18)" y="2" font-family='"Liberation Sans", sans-serif' font-size="5.6" text-anchor="middle" fill="#8b8e98">VP</text>
<text transform="translate(1326.2,783.8) rotate(-18)" y="2" font-family='"Liberation Sans", sans-serif' font-size="5.6" text-anchor="middle" fill="#8b8e98">VP</text>
<text transform="translate(1563.8,671.2) rotate(-18)" y="2" font-family='"Liberation Sans", sans-serif' font-size="5.6" text-anchor="middle" fill="#8b8e98">VP</text>
<text transform="translate(1635.0,637.5) rotate(-18)" y="2" font-family='"Liberation Sans", sans-serif' font-size="5.6" text-anchor="middle" fill="#8b8e98">VP</text>
<text transform="translate(1706.2,488.8) rotate(-18)" y="2" font-family='"Liberation Sans", sans-serif' font-size="5.6" text-anchor="middle" fill="#8b8e98">VP</text>
<text transform="translate(1256.2,817.5) rotate(-18)" y="2" font-family='"Liberation Sans", sans-serif' font-size="5.6" text-anchor="middle" fill="#8b8e98">VP</text>
<text transform="translate(1705.0,487.5) rotate(-18)" y="2" font-family='"Liberation Sans", sans-serif' font-size="5.6" text-anchor="middle" fill="#8b8e98">VP</text>
<text transform="translate(1718.8,480.0) rotate(-18)" y="2" font-family='"Liberation Sans", sans-serif' font-size="5.6" text-anchor="middle" fill="#8b8e98">VP</text>
<text transform="translate(1462.5,1072.5) rotate(-18)" y="2" font-family='"Liberation Sans", sans-serif' font-size="5.6" text-anchor="middle" fill="#8b8e98">VP</text>
<line x1="796.2" y1="881.8" x2="806.2" y2="903.8" stroke="#fff" stroke-width="1"/>
<line x1="810.5" y1="876.6" x2="820.5" y2="898.6" stroke="#fff" stroke-width="1" stroke-dasharray="1.5 1.8"/>
<line x1="824.7" y1="871.4" x2="834.7" y2="893.4" stroke="#fff" stroke-width="1"/>
<line x1="838.9" y1="866.3" x2="848.9" y2="888.3" stroke="#fff" stroke-width="1" stroke-dasharray="1.5 1.8"/>
<line x1="853.1" y1="861.1" x2="863.1" y2="883.1" stroke="#fff" stroke-width="1"/>
<line x1="867.3" y1="856.0" x2="877.3" y2="878.0" stroke="#fff" stroke-width="1" stroke-dasharray="1.5 1.8"/>
<line x1="881.6" y1="850.8" x2="891.6" y2="872.8" stroke="#fff" stroke-width="1"/>
<line x1="895.8" y1="845.7" x2="905.8" y2="867.7" stroke="#fff" stroke-width="1" stroke-dasharray="1.5 1.8"/>
<line x1="910.0" y1="840.5" x2="920.0" y2="862.5" stroke="#fff" stroke-width="1"/>
<line x1="806.2" y1="903.8" x2="920.0" y2="862.5" stroke="#fff" stroke-width="1"/>
<line x1="874.3" y1="660.3" x2="901.9" y2="647.4" stroke="#fff" stroke-width="1"/>
<line x1="882.1" y1="677.0" x2="909.7" y2="664.1" stroke="#fff" stroke-width="1" stroke-dasharray="1.5 1.8"/>
<line x1="889.8" y1="693.7" x2="917.4" y2="680.9" stroke="#fff" stroke-width="1"/>
<line x1="897.6" y1="710.5" x2="925.1" y2="697.6" stroke="#fff" stroke-width="1" stroke-dasharray="1.5 1.8"/>
<line x1="905.3" y1="727.2" x2="932.9" y2="714.3" stroke="#fff" stroke-width="1"/>
<line x1="913.0" y1="744.0" x2="940.6" y2="731.1" stroke="#fff" stroke-width="1" stroke-dasharray="1.5 1.8"/>
<line x1="920.8" y1="760.7" x2="948.4" y2="747.8" stroke="#fff" stroke-width="1"/>
<line x1="901.9" y1="647.4" x2="948.4" y2="747.8" stroke="#fff" stroke-width="1"/>
<polygon points="1216.2,523.8 1287.5,490.5 1312.0,546.2 1240.8,579.5" fill="#ffd545"/>
<line x1="1251.9" y1="507.1" x2="1276.4" y2="562.9" stroke="#fff" stroke-width="1.2"/>
<polygon points="1323.0,472.0 1387.5,442.5 1410.5,497.5 1346.0,527.0" fill="#ee82a6"/>
<line x1="1355.2" y1="457.2" x2="1378.2" y2="512.2" stroke="#fff" stroke-width="1.2"/>
<polygon points="1417.0,416.2 1493.8,382.5 1519.5,442.5 1442.8,476.2" fill="#6b6e7b"/>
<line x1="1455.4" y1="399.4" x2="1481.1" y2="459.4" stroke="#fff" stroke-width="1.2"/>
<polygon points="1533.8,373.8 1596.2,345.0 1620.5,396.2 1558.0,425.0" fill="#ee82a6"/>
<line x1="1565.0" y1="359.4" x2="1589.2" y2="410.6" stroke="#fff" stroke-width="1.2"/>
<polygon points="1632.5,326.2 1703.8,293.0 1728.8,348.8 1657.5,382.0" fill="#ffd545"/>
<line x1="1668.1" y1="309.6" x2="1693.1" y2="365.4" stroke="#fff" stroke-width="1.2"/>
<polygon points="1735.0,266.2 1811.2,232.0 1837.0,288.8 1760.8,323.0" fill="#6b6e7b"/>
<line x1="1773.1" y1="249.1" x2="1798.9" y2="305.9" stroke="#fff" stroke-width="1.2"/>
<polygon points="1832.0,219.2 1893.8,192.5 1913.8,235.0 1852.0,261.8" fill="#1b9ddb"/>
<line x1="1862.9" y1="205.9" x2="1882.9" y2="248.4" stroke="#fff" stroke-width="1.2"/>
<polygon points="1902.0,183.0 1996.2,142.0 2020.0,196.2 1925.8,237.2" fill="#6b6e7b"/>
<line x1="1933.4" y1="169.3" x2="1957.2" y2="223.6" stroke="#fff" stroke-width="1.2"/>
<line x1="1964.8" y1="155.7" x2="1988.6" y2="209.9" stroke="#fff" stroke-width="1.2"/>
<polygon points="1985.0,341.2 2053.0,313.8 2072.5,369.5 2004.5,397.0" fill="#c21b3a"/>
<line x1="2019.0" y1="327.5" x2="2038.5" y2="383.2" stroke="#fff" stroke-width="1.2"/>
<polygon points="1908.8,382.5 1948.8,363.8 1976.2,421.2 1936.2,440.0" fill="#68c1ad"/>
<polygon points="2051.2,487.5 2081.2,551.2 2028.0,576.2 1998.0,512.5" fill="#c21b3a"/>
<line x1="2066.2" y1="519.4" x2="2013.0" y2="544.4" stroke="#fff" stroke-width="1.2"/>
<polygon points="2106.2,568.8 2135.5,632.5 2081.2,657.0 2052.0,593.2" fill="#f37321"/>
<line x1="2120.9" y1="600.6" x2="2066.6" y2="625.1" stroke="#fff" stroke-width="1.2"/>
<polygon points="2135.0,661.2 2163.8,725.0 2110.0,750.0 2081.2,686.2" fill="#c21b3a"/>
<line x1="2149.4" y1="693.1" x2="2095.6" y2="718.1" stroke="#fff" stroke-width="1.2"/>
<polygon points="2180.0,746.2 2208.8,810.0 2158.8,832.5 2130.0,768.8" fill="#f37321"/>
<line x1="2194.4" y1="778.1" x2="2144.4" y2="800.6" stroke="#fff" stroke-width="1.2"/>
<polygon points="2217.5,833.0 2232.5,866.2 2177.5,891.2 2162.5,858.0" fill="#c21b3a"/>
<polygon points="2214.5,901.2 2243.0,965.0 2189.5,989.5 2161.0,925.8" fill="#c21b3a"/>
<line x1="2228.8" y1="933.1" x2="2175.2" y2="957.6" stroke="#fff" stroke-width="1.2"/>
<polygon points="1940.8,868.8 2008.0,838.8 2030.5,887.5 1963.2,917.5" fill="#f37321"/>
<line x1="1974.4" y1="853.8" x2="1996.9" y2="902.5" stroke="#fff" stroke-width="1.2"/>
<polygon points="1587.5,710.0 1616.2,776.2 1558.0,803.0 1529.2,736.8" fill="#6b6e7b"/>
<line x1="1601.9" y1="743.1" x2="1543.6" y2="769.9" stroke="#fff" stroke-width="1.2"/>
<polygon points="1763.8,756.2 1792.5,825.0 1733.8,851.2 1705.0,782.5" fill="#6b6e7b"/>
<line x1="1778.1" y1="790.6" x2="1719.4" y2="816.9" stroke="#fff" stroke-width="1.2"/>
<polygon points="1633.8,816.2 1665.0,886.2 1608.8,911.2 1577.5,841.2" fill="#ffd545"/>
<line x1="1649.4" y1="851.2" x2="1593.1" y2="876.2" stroke="#fff" stroke-width="1.2"/>
<polygon points="1453.8,900.0 1486.2,971.2 1430.0,997.5 1397.5,926.2" fill="#ffd545"/>
<line x1="1470.0" y1="935.6" x2="1413.8" y2="961.9" stroke="#fff" stroke-width="1.2"/>
<polygon points="1615.5,1050.0 1712.5,1007.0 1735.0,1057.5 1638.0,1100.5" fill="#c21b3a"/>
<line x1="1647.8" y1="1035.7" x2="1670.3" y2="1086.2" stroke="#fff" stroke-width="1.2"/>
<line x1="1680.2" y1="1021.3" x2="1702.7" y2="1071.8" stroke="#fff" stroke-width="1.2"/>
<polygon points="1784.2,946.2 1852.8,916.2 1876.5,970.0 1808.0,1000.0" fill="#f37321"/>
<line x1="1818.5" y1="931.2" x2="1842.2" y2="985.0" stroke="#fff" stroke-width="1.2"/>
<polygon points="1852.8,916.2 1921.2,886.2 1945.0,940.0 1876.5,970.0" fill="#ffd545"/>
<line x1="1887.0" y1="901.2" x2="1910.8" y2="955.0" stroke="#fff" stroke-width="1.2"/>
<polygon points="1937.5,678.8 1967.5,738.8 1918.8,761.2 1888.8,701.2" fill="#1b9ddb"/>
<line x1="1952.5" y1="708.8" x2="1903.8" y2="731.2" stroke="#fff" stroke-width="1.2"/>
<polygon points="1125.0,757.5 1185.0,731.2 1210.0,783.0 1150.0,809.2" fill="#6b6e7b"/>
<line x1="1155.0" y1="744.4" x2="1180.0" y2="796.1" stroke="#fff" stroke-width="1.2"/>
<polygon points="1075.0,818.8 1110.0,893.8 1050.0,921.2 1015.0,846.2" fill="#6b6e7b"/>
<line x1="1092.5" y1="856.2" x2="1032.5" y2="883.8" stroke="#fff" stroke-width="1.2"/>
<polygon points="1097.5,947.5 1128.8,1015.0 1076.2,1040.0 1045.0,972.5" fill="#6b6e7b"/>
<line x1="1113.1" y1="981.2" x2="1060.6" y2="1006.2" stroke="#fff" stroke-width="1.2"/>
<polygon points="1280.0,853.8 1310.0,922.5 1253.8,948.8 1223.8,880.0" fill="#6b6e7b"/>
<line x1="1295.0" y1="888.1" x2="1238.8" y2="914.4" stroke="#fff" stroke-width="1.2"/>
<polygon points="1330.0,961.2 1360.0,1031.2 1303.8,1056.2 1273.8,986.2" fill="#6b6e7b"/>
<line x1="1345.0" y1="996.2" x2="1288.8" y2="1021.2" stroke="#fff" stroke-width="1.2"/>
<polygon points="1403.8,796.2 1433.8,863.8 1378.8,890.0 1348.8,822.5" fill="#6b6e7b"/>
<line x1="1418.8" y1="830.0" x2="1363.8" y2="856.2" stroke="#fff" stroke-width="1.2"/>
<polygon points="1146.2,1060.8 1171.2,1117.0 1128.8,1137.0 1103.8,1080.8" fill="#1b9ddb"/>
<line x1="1158.8" y1="1088.9" x2="1116.2" y2="1108.9" stroke="#fff" stroke-width="1.2"/>
<polygon points="1032.5,1158.2 1061.2,1225.8 1007.5,1250.8 978.8,1183.2" fill="#6b6e7b"/>
<line x1="1046.9" y1="1192.0" x2="993.1" y2="1217.0" stroke="#fff" stroke-width="1.2"/>
<polygon points="1087.5,1262.5 1115.0,1325.8 1062.5,1350.0 1035.0,1286.8" fill="#c21b3a"/>
<line x1="1101.2" y1="1294.1" x2="1048.8" y2="1318.4" stroke="#fff" stroke-width="1.2"/>
<polygon points="1075.0,1389.5 1135.0,1363.2 1152.5,1403.2 1092.5,1429.5" fill="#68c1ad"/>
<polygon points="1180.0,1229.5 1247.5,1199.5 1268.8,1248.2 1201.2,1278.2" fill="#f37321"/>
<line x1="1213.8" y1="1214.5" x2="1235.0" y2="1263.2" stroke="#fff" stroke-width="1.2"/>
<polygon points="1266.2,1194.5 1341.2,1161.5 1362.5,1210.0 1287.5,1243.0" fill="#ffd545"/>
<line x1="1303.8" y1="1178.0" x2="1325.0" y2="1226.5" stroke="#fff" stroke-width="1.2"/>
<polygon points="1341.2,1161.5 1407.5,1131.5 1428.8,1180.8 1362.5,1210.8" fill="#f37321"/>
<line x1="1374.4" y1="1146.5" x2="1395.6" y2="1195.8" stroke="#fff" stroke-width="1.2"/>
<polygon points="800.0,973.0 927.5,916.2 948.8,971.2 821.2,1028.0" fill="#6b6e7b"/>
<line x1="831.9" y1="958.8" x2="853.1" y2="1013.8" stroke="#fff" stroke-width="1.2"/>
<line x1="863.8" y1="944.6" x2="885.0" y2="999.6" stroke="#fff" stroke-width="1.2"/>
<line x1="895.6" y1="930.4" x2="916.9" y2="985.4" stroke="#fff" stroke-width="1.2"/>
<polygon points="1502.5,1097.5 1577.5,1063.8 1602.0,1121.2 1527.0,1155.0" fill="#6b6e7b"/>
<line x1="1540.0" y1="1080.6" x2="1564.5" y2="1138.1" stroke="#fff" stroke-width="1.2"/>
<polygon points="1304.5,675.0 1366.2,647.5 1390.0,698.0 1328.2,725.5" fill="#6b6e7b"/>
<line x1="1335.4" y1="661.2" x2="1359.1" y2="711.8" stroke="#fff" stroke-width="1.2"/>
<polygon points="1402.5,627.5 1498.8,585.0 1521.2,638.0 1425.0,680.5" fill="#6b6e7b"/>
<line x1="1434.6" y1="613.3" x2="1457.1" y2="666.3" stroke="#fff" stroke-width="1.2"/>
<line x1="1466.7" y1="599.2" x2="1489.2" y2="652.2" stroke="#fff" stroke-width="1.2"/>
<polygon points="1612.5,526.2 1675.0,498.8 1698.8,552.5 1636.2,580.0" fill="#6b6e7b"/>
<line x1="1643.8" y1="512.5" x2="1667.5" y2="566.2" stroke="#fff" stroke-width="1.2"/>
<polygon points="1710.0,647.5 1740.0,716.2 1683.8,742.5 1653.8,673.8" fill="#6b6e7b"/>
<line x1="1725.0" y1="681.9" x2="1668.8" y2="708.1" stroke="#fff" stroke-width="1.2"/>
<polygon points="1818.8,467.5 1850.0,540.0 1791.2,568.8 1760.0,496.2" fill="#6b6e7b"/>
<line x1="1834.4" y1="503.8" x2="1775.6" y2="532.5" stroke="#fff" stroke-width="1.2"/>
<polygon points="1890.0,570.0 1920.0,638.8 1866.2,665.0 1836.2,596.2" fill="#6b6e7b"/>
<line x1="1905.0" y1="604.4" x2="1851.2" y2="630.6" stroke="#fff" stroke-width="1.2"/>
<polygon points="995.7,579.3 1048.2,699.2 992.7,724.7 940.3,604.8" fill="#6b6e7b"/>
<line x1="1008.8" y1="609.3" x2="953.4" y2="634.8" stroke="#fff" stroke-width="1.2"/>
<line x1="1022.0" y1="639.3" x2="966.5" y2="664.8" stroke="#fff" stroke-width="1.2"/>
<line x1="1035.1" y1="669.3" x2="979.6" y2="694.7" stroke="#fff" stroke-width="1.2"/>
<polygon points="1106.6,577.8 1183.1,543.4 1207.1,600.3 1130.6,634.8" fill="#6b6e7b"/>
<line x1="1144.9" y1="560.6" x2="1168.8" y2="617.6" stroke="#fff" stroke-width="1.2"/>
<polygon points="988.0,1049.0 1018.0,1119.0 967.0,1142.0 937.0,1072.0" fill="#6b6e7b"/>
<line x1="1003.0" y1="1084.0" x2="952.0" y2="1107.0" stroke="#fff" stroke-width="1.2"/>
<polygon points="1177.5,1435.5 1209.2,1440.8 1202.5,1481.2 1170.8,1475.9" fill="#6b6e7b"/>
<polygon points="1866.2,1287.5 1893.8,1278.8 1902.5,1303.8 1874.9,1312.5" fill="#6b6e7b"/>
</g>
<g clip-path="url(#sc)"><line x1="1012" y1="562.3" x2="1975" y2="76.9" stroke="#fff" stroke-width="2.2" stroke-dasharray="1.6 1.6"/><line x1="1013.6" y1="565.2" x2="1976.5" y2="79.8" stroke="#fff" stroke-width="0.9"/></g>
<text x="2116.0" y="251" font-family='"Liberation Sans", sans-serif' font-size="17.5" fill="#50555f" textLength="73" lengthAdjust="spacingAndGlyphs">Access to</text>
<text x="2079.0" y="272.5" font-family='"Liberation Sans", sans-serif' font-size="17.5" fill="#50555f" textLength="151" lengthAdjust="spacingAndGlyphs">future development</text>
<text x="2413.1" y="970.9" font-family='"Liberation Sans", sans-serif' font-size="17.5" fill="#50555f" textLength="73" lengthAdjust="spacingAndGlyphs">Access to</text>
<text x="2376.0" y="993.9" font-family='"Liberation Sans", sans-serif' font-size="17.5" fill="#50555f" textLength="151" lengthAdjust="spacingAndGlyphs">future development</text>
<circle cx="1290.0" cy="586.2" r="20.5" fill="#739472" stroke="#1f6e3a" stroke-width="1.8"/>
<circle cx="1388.8" cy="533.8" r="20.5" fill="#739472" stroke="#1f6e3a" stroke-width="1.8"/>
<circle cx="1496.2" cy="486.2" r="20.5" fill="#739472" stroke="#1f6e3a" stroke-width="1.8"/>
<circle cx="1599.5" cy="433.8" r="20.5" fill="#739472" stroke="#1f6e3a" stroke-width="1.8"/>
<circle cx="1530.0" cy="577.5" r="20.5" fill="#739472" stroke="#1f6e3a" stroke-width="1.8"/>
<circle cx="1593.8" cy="548.2" r="20.5" fill="#739472" stroke="#1f6e3a" stroke-width="1.8"/>
<circle cx="1813.8" cy="331.2" r="20.8" fill="#739472" stroke="#1f6e3a" stroke-width="1.8"/>
<circle cx="1872.0" cy="305.5" r="20.8" fill="#739472" stroke="#1f6e3a" stroke-width="1.8"/>
<circle cx="2073.8" cy="302.0" r="20.8" fill="#739472" stroke="#1f6e3a" stroke-width="1.8"/>
<circle cx="1954.5" cy="493.8" r="19.5" fill="#739472" stroke="#1f6e3a" stroke-width="1.8"/>
<circle cx="1985.0" cy="558.0" r="20.5" fill="#739472" stroke="#1f6e3a" stroke-width="1.8"/>
<circle cx="1876.2" cy="511.2" r="20.0" fill="#739472" stroke="#1f6e3a" stroke-width="1.8"/>
<circle cx="2065.0" cy="732.5" r="20.5" fill="#739472" stroke="#1f6e3a" stroke-width="1.8"/>
<circle cx="2002.0" cy="790.0" r="20.5" fill="#739472" stroke="#1f6e3a" stroke-width="1.8"/>
<circle cx="2148.8" cy="896.8" r="14.2" fill="#739472" stroke="#1f6e3a" stroke-width="1.8"/>
<circle cx="2110.0" cy="965.0" r="20.5" fill="#739472" stroke="#1f6e3a" stroke-width="1.8"/>
<circle cx="2166.2" cy="1009.5" r="20.5" fill="#739472" stroke="#1f6e3a" stroke-width="1.8"/>
<circle cx="2221.2" cy="999.5" r="14.2" fill="#739472" stroke="#1f6e3a" stroke-width="1.8"/>
<circle cx="2329.5" cy="951.8" r="14.2" fill="#739472" stroke="#1f6e3a" stroke-width="1.8"/>
<circle cx="1963.8" cy="965.0" r="15.0" fill="#739472" stroke="#1f6e3a" stroke-width="1.8"/>
<circle cx="1993.8" cy="1053.8" r="20.5" fill="#739472" stroke="#1f6e3a" stroke-width="1.8"/>
<circle cx="1702.0" cy="937.5" r="20.5" fill="#739472" stroke="#1f6e3a" stroke-width="1.8"/>
<circle cx="1758.8" cy="910.0" r="20.5" fill="#739472" stroke="#1f6e3a" stroke-width="1.8"/>
<circle cx="1445.0" cy="1049.2" r="20.5" fill="#739472" stroke="#1f6e3a" stroke-width="1.8"/>
<circle cx="1829.5" cy="1033.8" r="20.5" fill="#739472" stroke="#1f6e3a" stroke-width="1.8"/>
<circle cx="1760.0" cy="1072.5" r="20.5" fill="#739472" stroke="#1f6e3a" stroke-width="1.8"/>
<circle cx="1886.8" cy="1000.0" r="10.5" fill="#739472" stroke="#1f6e3a" stroke-width="1.8"/>
<circle cx="938.0" cy="777.0" r="20.5" fill="#739472" stroke="#1f6e3a" stroke-width="1.8"/>
<circle cx="1062.0" cy="795.0" r="20.5" fill="#739472" stroke="#1f6e3a" stroke-width="1.8"/>
<circle cx="1217.5" cy="728.0" r="20.5" fill="#739472" stroke="#1f6e3a" stroke-width="1.8"/>
<circle cx="1281.2" cy="699.5" r="20.5" fill="#739472" stroke="#1f6e3a" stroke-width="1.8"/>
<circle cx="1328.0" cy="807.0" r="18.8" fill="#739472" stroke="#1f6e3a" stroke-width="1.8"/>
<circle cx="1261.8" cy="837.5" r="15.0" fill="#739472" stroke="#1f6e3a" stroke-width="1.8"/>
<circle cx="913.8" cy="836.2" r="18.8" fill="#739472" stroke="#1f6e3a" stroke-width="1.8"/>
<circle cx="1380.0" cy="1078.8" r="20.0" fill="#739472" stroke="#1f6e3a" stroke-width="1.8"/>
<circle cx="1146.2" cy="1192.0" r="20.5" fill="#739472" stroke="#1f6e3a" stroke-width="1.8"/>
<circle cx="1173.8" cy="1372.0" r="20.5" fill="#739472" stroke="#1f6e3a" stroke-width="1.8"/>
<circle cx="1247.0" cy="1389.5" r="20.5" fill="#739472" stroke="#1f6e3a" stroke-width="1.8"/>
<circle cx="1315.0" cy="1379.5" r="20.5" fill="#739472" stroke="#1f6e3a" stroke-width="1.8"/>
<circle cx="1301.8" cy="1285.8" r="13.8" fill="#739472" stroke="#1f6e3a" stroke-width="1.8"/>
<circle cx="1380.5" cy="1244.5" r="10.5" fill="#739472" stroke="#1f6e3a" stroke-width="1.8"/>
<circle cx="1442.5" cy="1222.0" r="20.5" fill="#739472" stroke="#1f6e3a" stroke-width="1.8"/>
<circle cx="1477.5" cy="1300.8" r="21.2" fill="#739472" stroke="#1f6e3a" stroke-width="1.8"/>
<circle cx="900.0" cy="1157.0" r="27.5" fill="#739472" stroke="#1f6e3a" stroke-width="1.8"/>
<circle cx="915.0" cy="1212.0" r="32.5" fill="#739472" stroke="#1f6e3a" stroke-width="1.8"/>
<circle cx="927.5" cy="1264.5" r="35.0" fill="#739472" stroke="#1f6e3a" stroke-width="1.8"/>
<circle cx="956.2" cy="1303.2" r="35.0" fill="#739472" stroke="#1f6e3a" stroke-width="1.8"/>
<circle cx="967.5" cy="1334.5" r="23.8" fill="#739472" stroke="#1f6e3a" stroke-width="1.8"/>
<circle cx="985.0" cy="1350.8" r="24.2" fill="#739472" stroke="#1f6e3a" stroke-width="1.8"/>
<circle cx="1017.5" cy="1439.5" r="20.0" fill="#739472" stroke="#1f6e3a" stroke-width="1.8"/>
<circle cx="1032.5" cy="1454.5" r="20.0" fill="#739472" stroke="#1f6e3a" stroke-width="1.8"/>
<circle cx="740.0" cy="710.0" r="35.0" fill="#739472" stroke="#1f6e3a" stroke-width="1.8"/>
<circle cx="790.0" cy="692.5" r="30.0" fill="#739472" stroke="#1f6e3a" stroke-width="1.8"/>
<circle cx="715.0" cy="797.5" r="35.0" fill="#739472" stroke="#1f6e3a" stroke-width="1.8"/>
<circle cx="728.8" cy="856.2" r="46.2" fill="#739472" stroke="#1f6e3a" stroke-width="1.8"/>
<circle cx="762.5" cy="895.0" r="34.5" fill="#739472" stroke="#1f6e3a" stroke-width="1.8"/>
<circle cx="867.5" cy="713.8" r="13.8" fill="#739472" stroke="#1f6e3a" stroke-width="1.8"/>
<circle cx="835.8" cy="730.0" r="13.8" fill="#739472" stroke="#1f6e3a" stroke-width="1.8"/>
<circle cx="800.8" cy="746.8" r="13.8" fill="#739472" stroke="#1f6e3a" stroke-width="1.8"/>
<circle cx="761.2" cy="763.0" r="13.8" fill="#739472" stroke="#1f6e3a" stroke-width="1.8"/>
<circle cx="886.2" cy="749.2" r="13.8" fill="#739472" stroke="#1f6e3a" stroke-width="1.8"/>
<circle cx="854.2" cy="765.0" r="13.8" fill="#739472" stroke="#1f6e3a" stroke-width="1.8"/>
<circle cx="819.5" cy="781.8" r="13.8" fill="#739472" stroke="#1f6e3a" stroke-width="1.8"/>
<circle cx="780.0" cy="798.0" r="13.8" fill="#739472" stroke="#1f6e3a" stroke-width="1.8"/>
<circle cx="872.5" cy="800.0" r="13.8" fill="#739472" stroke="#1f6e3a" stroke-width="1.8"/>
<circle cx="837.5" cy="817.0" r="13.8" fill="#739472" stroke="#1f6e3a" stroke-width="1.8"/>
<circle cx="798.2" cy="833.2" r="13.8" fill="#739472" stroke="#1f6e3a" stroke-width="1.8"/>
<circle cx="830.5" cy="1048.0" r="20.0" fill="#739472" stroke="#1f6e3a" stroke-width="1.8"/>
<circle cx="836.2" cy="1081.2" r="26.2" fill="#739472" stroke="#1f6e3a" stroke-width="1.8"/>
<circle cx="870.0" cy="1090.0" r="28.8" fill="#739472" stroke="#1f6e3a" stroke-width="1.8"/>
<circle cx="1480.0" cy="1120.0" r="20.5" fill="#739472" stroke="#1f6e3a" stroke-width="1.8"/>
<circle cx="1517.0" cy="1190.8" r="20.5" fill="#739472" stroke="#1f6e3a" stroke-width="1.8"/>
<circle cx="1585.5" cy="1157.5" r="20.5" fill="#739472" stroke="#1f6e3a" stroke-width="1.8"/>
<circle cx="1700.0" cy="1100.0" r="20.5" fill="#739472" stroke="#1f6e3a" stroke-width="1.8"/>
<circle cx="1716.2" cy="1191.8" r="20.5" fill="#739472" stroke="#1f6e3a" stroke-width="1.8"/>
<circle cx="1748.8" cy="1235.8" r="20.5" fill="#739472" stroke="#1f6e3a" stroke-width="1.8"/>
<circle cx="1775.0" cy="1287.5" r="20.5" fill="#739472" stroke="#1f6e3a" stroke-width="1.8"/>
<circle cx="1791.8" cy="1348.0" r="20.5" fill="#739472" stroke="#1f6e3a" stroke-width="1.8"/>
<circle cx="1818.8" cy="1140.8" r="20.5" fill="#739472" stroke="#1f6e3a" stroke-width="1.8"/>
<circle cx="1864.2" cy="1118.2" r="20.5" fill="#739472" stroke="#1f6e3a" stroke-width="1.8"/>
<circle cx="1830.0" cy="1190.8" r="20.5" fill="#739472" stroke="#1f6e3a" stroke-width="1.8"/>
<circle cx="1858.8" cy="1251.2" r="20.5" fill="#739472" stroke="#1f6e3a" stroke-width="1.8"/>
<circle cx="1549.2" cy="1267.0" r="20.5" fill="#739472" stroke="#1f6e3a" stroke-width="1.8"/>
<circle cx="1445.0" cy="1055.0" r="17.5" fill="#739472" stroke="#1f6e3a" stroke-width="1.8"/>
<circle cx="1257.0" cy="1586.2" r="20.5" fill="#739472" stroke="#1f6e3a" stroke-width="1.8"/>
<circle cx="1258.8" cy="1577.5" r="20.5" fill="#739472" stroke="#1f6e3a" stroke-width="1.8"/>
<circle cx="1280.0" cy="1578.2" r="20.5" fill="#739472" stroke="#1f6e3a" stroke-width="1.8"/>
<circle cx="1300.0" cy="1557.5" r="20.5" fill="#739472" stroke="#1f6e3a" stroke-width="1.8"/>
<circle cx="1317.0" cy="1540.0" r="20.0" fill="#739472" stroke="#1f6e3a" stroke-width="1.8"/>
<circle cx="1356.2" cy="1562.5" r="33.8" fill="#739472" stroke="#1f6e3a" stroke-width="1.8"/>
<circle cx="1403.8" cy="1540.5" r="38.8" fill="#739472" stroke="#1f6e3a" stroke-width="1.8"/>
<circle cx="1450.0" cy="1510.5" r="34.5" fill="#739472" stroke="#1f6e3a" stroke-width="1.8"/>
<circle cx="1505.5" cy="1502.5" r="20.5" fill="#739472" stroke="#1f6e3a" stroke-width="1.8"/>
<circle cx="1585.0" cy="1464.2" r="28.8" fill="#739472" stroke="#1f6e3a" stroke-width="1.8"/>
<circle cx="1625.0" cy="1464.2" r="28.8" fill="#739472" stroke="#1f6e3a" stroke-width="1.8"/>
<circle cx="1656.2" cy="1439.5" r="24.2" fill="#739472" stroke="#1f6e3a" stroke-width="1.8"/>
<circle cx="1641.8" cy="658.2" r="15.8" fill="#739472" stroke="#1f6e3a" stroke-width="1.8"/>
<circle cx="1578.0" cy="685.5" r="15.0" fill="#739472" stroke="#1f6e3a" stroke-width="1.8"/>
<circle cx="1738.2" cy="465.8" r="18.0" fill="#739472" stroke="#1f6e3a" stroke-width="1.8"/>
<circle cx="2563.5" cy="1123.6" r="69.1" fill="#739472" stroke="#1f6e3a" stroke-width="1.8"/>
<circle cx="2367.9" cy="1269.4" r="38.3" fill="#739472" stroke="#1f6e3a" stroke-width="1.8"/>
<circle cx="881.8" cy="611.4" r="34.5" fill="#739472" stroke="#1f6e3a" stroke-width="1.8"/>
<circle cx="836.9" cy="664.8" r="34.5" fill="#739472" stroke="#1f6e3a" stroke-width="1.8"/>
<circle cx="1012.2" cy="553.9" r="33.0" fill="#739472" stroke="#1f6e3a" stroke-width="1.8"/>
<circle cx="1031.7" cy="537.4" r="33.0" fill="#739472" stroke="#1f6e3a" stroke-width="1.8"/>
<circle cx="1040.7" cy="526.9" r="33.0" fill="#739472" stroke="#1f6e3a" stroke-width="1.8"/>
<circle cx="1076.7" cy="510.4" r="34.5" fill="#739472" stroke="#1f6e3a" stroke-width="1.8"/>
<circle cx="1156.1" cy="474.4" r="34.5" fill="#739472" stroke="#1f6e3a" stroke-width="1.8"/>
<circle cx="1163.6" cy="463.9" r="34.5" fill="#739472" stroke="#1f6e3a" stroke-width="1.8"/>
<circle cx="1199.6" cy="451.3" r="34.5" fill="#739472" stroke="#1f6e3a" stroke-width="1.8"/>
<circle cx="867.5" cy="1094.0" r="35.0" fill="#739472" stroke="#1f6e3a" stroke-width="1.8"/>
<circle cx="867.5" cy="1134.0" r="35.0" fill="#739472" stroke="#1f6e3a" stroke-width="1.8"/>
<circle cx="1031.2" cy="1493.8" r="20.5" fill="#739472" stroke="#1f6e3a" stroke-width="1.8"/>
<circle cx="1048.8" cy="1510.0" r="20.5" fill="#739472" stroke="#1f6e3a" stroke-width="1.8"/>
<circle cx="1070.0" cy="1531.2" r="20.5" fill="#739472" stroke="#1f6e3a" stroke-width="1.8"/>
<circle cx="1067.5" cy="1551.2" r="19.5" fill="#739472" stroke="#1f6e3a" stroke-width="1.8"/>
<circle cx="1077.5" cy="1553.8" r="19.5" fill="#739472" stroke="#1f6e3a" stroke-width="1.8"/>
<circle cx="1092.0" cy="1567.5" r="20.5" fill="#739472" stroke="#1f6e3a" stroke-width="1.8"/>
<circle cx="1090.0" cy="1607.5" r="19.5" fill="#739472" stroke="#1f6e3a" stroke-width="1.8"/>
<circle cx="1133.2" cy="1625.0" r="38.8" fill="#739472" stroke="#1f6e3a" stroke-width="1.8"/>
<circle cx="1246.3" cy="543.3" r="13" fill="#fff"/>
<text x="1238.8" y="548.3" font-family='"Liberation Sans", sans-serif' font-size="14.5" fill="#3a4150" stroke="#3a4150" stroke-width="0.35" textLength="15" lengthAdjust="spacingAndGlyphs">39</text>
<circle cx="1281.9" cy="526.7" r="13" fill="#fff"/>
<text x="1274.4" y="531.7" font-family='"Liberation Sans", sans-serif' font-size="14.5" fill="#3a4150" stroke="#3a4150" stroke-width="0.35" textLength="15" lengthAdjust="spacingAndGlyphs">38</text>
<circle cx="1350.6" cy="492.1" r="13" fill="#fff"/>
<text x="1343.1" y="497.1" font-family='"Liberation Sans", sans-serif' font-size="14.5" fill="#3a4150" stroke="#3a4150" stroke-width="0.35" textLength="15" lengthAdjust="spacingAndGlyphs">37</text>
<circle cx="1382.9" cy="477.4" r="13" fill="#fff"/>
<text x="1375.4" y="482.4" font-family='"Liberation Sans", sans-serif' font-size="14.5" fill="#3a4150" stroke="#3a4150" stroke-width="0.35" textLength="15" lengthAdjust="spacingAndGlyphs">36</text>
<circle cx="1561.5" cy="392.2" r="13" fill="#fff"/>
<text x="1554.0" y="397.2" font-family='"Liberation Sans", sans-serif' font-size="14.5" fill="#3a4150" stroke="#3a4150" stroke-width="0.35" textLength="15" lengthAdjust="spacingAndGlyphs">33</text>
<circle cx="1592.8" cy="377.8" r="13" fill="#fff"/>
<text x="1585.2" y="382.8" font-family='"Liberation Sans", sans-serif' font-size="14.5" fill="#3a4150" stroke="#3a4150" stroke-width="0.35" textLength="15" lengthAdjust="spacingAndGlyphs">32</text>
<circle cx="1662.8" cy="345.8" r="13" fill="#fff"/>
<text x="1655.3" y="350.8" font-family='"Liberation Sans", sans-serif' font-size="14.5" fill="#3a4150" stroke="#3a4150" stroke-width="0.35" textLength="15" lengthAdjust="spacingAndGlyphs">31</text>
<circle cx="1698.4" cy="329.2" r="13" fill="#fff"/>
<text x="1690.9" y="334.2" font-family='"Liberation Sans", sans-serif' font-size="14.5" fill="#3a4150" stroke="#3a4150" stroke-width="0.35" textLength="15" lengthAdjust="spacingAndGlyphs">30</text>
<circle cx="1857.4" cy="233.8" r="13" fill="#fff"/>
<text x="1849.9" y="238.8" font-family='"Liberation Sans", sans-serif' font-size="14.5" fill="#3a4150" stroke="#3a4150" stroke-width="0.35" textLength="15" lengthAdjust="spacingAndGlyphs">27</text>
<circle cx="1888.3" cy="220.4" r="13" fill="#fff"/>
<text x="1880.8" y="225.4" font-family='"Liberation Sans", sans-serif' font-size="14.5" fill="#3a4150" stroke="#3a4150" stroke-width="0.35" textLength="15" lengthAdjust="spacingAndGlyphs">26</text>
<circle cx="2011.8" cy="362.2" r="13" fill="#fff"/>
<text x="2004.2" y="367.2" font-family='"Liberation Sans", sans-serif' font-size="14.5" fill="#3a4150" stroke="#3a4150" stroke-width="0.35" textLength="15" lengthAdjust="spacingAndGlyphs">21</text>
<circle cx="2045.8" cy="348.5" r="13" fill="#fff"/>
<text x="2038.2" y="353.5" font-family='"Liberation Sans", sans-serif' font-size="14.5" fill="#3a4150" stroke="#3a4150" stroke-width="0.35" textLength="15" lengthAdjust="spacingAndGlyphs">20</text>
<circle cx="1942.5" cy="401.9" r="13" fill="#fff"/>
<text x="1935.0" y="406.9" font-family='"Liberation Sans", sans-serif' font-size="14.5" fill="#3a4150" stroke="#3a4150" stroke-width="0.35" textLength="15" lengthAdjust="spacingAndGlyphs">22</text>
<circle cx="2032.1" cy="515.9" r="13" fill="#fff"/>
<text x="2024.6" y="520.9" font-family='"Liberation Sans", sans-serif' font-size="14.5" fill="#3a4150" stroke="#3a4150" stroke-width="0.35" textLength="15" lengthAdjust="spacingAndGlyphs">19</text>
<circle cx="2047.1" cy="547.8" r="13" fill="#fff"/>
<text x="2039.6" y="552.8" font-family='"Liberation Sans", sans-serif' font-size="14.5" fill="#3a4150" stroke="#3a4150" stroke-width="0.35" textLength="15" lengthAdjust="spacingAndGlyphs">18</text>
<circle cx="2086.4" cy="596.9" r="13" fill="#fff"/>
<text x="2078.9" y="601.9" font-family='"Liberation Sans", sans-serif' font-size="14.5" fill="#3a4150" stroke="#3a4150" stroke-width="0.35" textLength="15" lengthAdjust="spacingAndGlyphs">17</text>
<circle cx="2101.1" cy="628.8" r="13" fill="#fff"/>
<text x="2093.6" y="633.8" font-family='"Liberation Sans", sans-serif' font-size="14.5" fill="#3a4150" stroke="#3a4150" stroke-width="0.35" textLength="15" lengthAdjust="spacingAndGlyphs">16</text>
<circle cx="2115.3" cy="689.7" r="13" fill="#fff"/>
<text x="2107.8" y="694.7" font-family='"Liberation Sans", sans-serif' font-size="14.5" fill="#3a4150" stroke="#3a4150" stroke-width="0.35" textLength="15" lengthAdjust="spacingAndGlyphs">15</text>
<circle cx="2129.7" cy="721.6" r="13" fill="#fff"/>
<text x="2122.2" y="726.6" font-family='"Liberation Sans", sans-serif' font-size="14.5" fill="#3a4150" stroke="#3a4150" stroke-width="0.35" textLength="15" lengthAdjust="spacingAndGlyphs">14</text>
<circle cx="2162.2" cy="773.4" r="13" fill="#fff"/>
<text x="2154.7" y="778.4" font-family='"Liberation Sans", sans-serif' font-size="14.5" fill="#3a4150" stroke="#3a4150" stroke-width="0.35" textLength="15" lengthAdjust="spacingAndGlyphs">13</text>
<circle cx="2176.6" cy="805.3" r="13" fill="#fff"/>
<text x="2169.1" y="810.3" font-family='"Liberation Sans", sans-serif' font-size="14.5" fill="#3a4150" stroke="#3a4150" stroke-width="0.35" textLength="15" lengthAdjust="spacingAndGlyphs">12</text>
<circle cx="2197.5" cy="862.1" r="13" fill="#fff"/>
<text x="2190.0" y="867.1" font-family='"Liberation Sans", sans-serif' font-size="14.5" fill="#3a4150" stroke="#3a4150" stroke-width="0.35" textLength="15" lengthAdjust="spacingAndGlyphs">11</text>
<circle cx="2194.9" cy="929.4" r="13" fill="#fff"/>
<text x="2187.4" y="934.4" font-family='"Liberation Sans", sans-serif' font-size="14.5" fill="#3a4150" stroke="#3a4150" stroke-width="0.35" textLength="15" lengthAdjust="spacingAndGlyphs">10</text>
<circle cx="2209.1" cy="961.3" r="13" fill="#fff"/>
<text x="2205.4" y="966.3" font-family='"Liberation Sans", sans-serif' font-size="14.5" fill="#3a4150" stroke="#3a4150" stroke-width="0.35" textLength="7.5" lengthAdjust="spacingAndGlyphs">9</text>
<circle cx="1968.8" cy="885.6" r="13" fill="#fff"/>
<text x="1961.3" y="890.6" font-family='"Liberation Sans", sans-serif' font-size="14.5" fill="#3a4150" stroke="#3a4150" stroke-width="0.35" textLength="15" lengthAdjust="spacingAndGlyphs">97</text>
<circle cx="2002.4" cy="870.6" r="13" fill="#fff"/>
<text x="1994.9" y="875.6" font-family='"Liberation Sans", sans-serif' font-size="14.5" fill="#3a4150" stroke="#3a4150" stroke-width="0.35" textLength="15" lengthAdjust="spacingAndGlyphs">98</text>
<circle cx="1613.4" cy="846.2" r="13" fill="#fff"/>
<text x="1605.9" y="851.2" font-family='"Liberation Sans", sans-serif' font-size="14.5" fill="#3a4150" stroke="#3a4150" stroke-width="0.35" textLength="15" lengthAdjust="spacingAndGlyphs">91</text>
<circle cx="1629.1" cy="881.2" r="13" fill="#fff"/>
<text x="1621.6" y="886.2" font-family='"Liberation Sans", sans-serif' font-size="14.5" fill="#3a4150" stroke="#3a4150" stroke-width="0.35" textLength="15" lengthAdjust="spacingAndGlyphs">92</text>
<circle cx="1433.8" cy="930.9" r="13" fill="#fff"/>
<text x="1426.2" y="935.9" font-family='"Liberation Sans", sans-serif' font-size="14.5" fill="#3a4150" stroke="#3a4150" stroke-width="0.35" textLength="15" lengthAdjust="spacingAndGlyphs">81</text>
<circle cx="1450.0" cy="966.6" r="13" fill="#fff"/>
<text x="1442.5" y="971.6" font-family='"Liberation Sans", sans-serif' font-size="14.5" fill="#3a4150" stroke="#3a4150" stroke-width="0.35" textLength="15" lengthAdjust="spacingAndGlyphs">80</text>
<circle cx="1642.9" cy="1068.1" r="13" fill="#fff"/>
<text x="1635.4" y="1073.1" font-family='"Liberation Sans", sans-serif' font-size="14.5" fill="#3a4150" stroke="#3a4150" stroke-width="0.35" textLength="15" lengthAdjust="spacingAndGlyphs">77</text>
<circle cx="1675.2" cy="1053.8" r="13" fill="#fff"/>
<text x="1667.8" y="1058.8" font-family='"Liberation Sans", sans-serif' font-size="14.5" fill="#3a4150" stroke="#3a4150" stroke-width="0.35" textLength="15" lengthAdjust="spacingAndGlyphs">78</text>
<circle cx="1707.6" cy="1039.4" r="13" fill="#fff"/>
<text x="1700.1" y="1044.4" font-family='"Liberation Sans", sans-serif' font-size="14.5" fill="#3a4150" stroke="#3a4150" stroke-width="0.35" textLength="15" lengthAdjust="spacingAndGlyphs">79</text>
<circle cx="1813.2" cy="965.6" r="13" fill="#fff"/>
<text x="1805.8" y="970.6" font-family='"Liberation Sans", sans-serif' font-size="14.5" fill="#3a4150" stroke="#3a4150" stroke-width="0.35" textLength="15" lengthAdjust="spacingAndGlyphs">93</text>
<circle cx="1847.5" cy="950.6" r="13" fill="#fff"/>
<text x="1840.0" y="955.6" font-family='"Liberation Sans", sans-serif' font-size="14.5" fill="#3a4150" stroke="#3a4150" stroke-width="0.35" textLength="15" lengthAdjust="spacingAndGlyphs">94</text>
<circle cx="1881.8" cy="935.6" r="13" fill="#fff"/>
<text x="1874.2" y="940.6" font-family='"Liberation Sans", sans-serif' font-size="14.5" fill="#3a4150" stroke="#3a4150" stroke-width="0.35" textLength="15" lengthAdjust="spacingAndGlyphs">95</text>
<circle cx="1916.0" cy="920.6" r="13" fill="#fff"/>
<text x="1908.5" y="925.6" font-family='"Liberation Sans", sans-serif' font-size="14.5" fill="#3a4150" stroke="#3a4150" stroke-width="0.35" textLength="15" lengthAdjust="spacingAndGlyphs">96</text>
<circle cx="1920.6" cy="705.0" r="13" fill="#fff"/>
<text x="1910.6" y="710.0" font-family='"Liberation Sans", sans-serif' font-size="13.5" fill="#3a4150" stroke="#3a4150" stroke-width="0.35" textLength="20" lengthAdjust="spacingAndGlyphs">109</text>
<circle cx="1935.6" cy="735.0" r="13" fill="#fff"/>
<text x="1925.6" y="740.0" font-family='"Liberation Sans", sans-serif' font-size="13.5" fill="#3a4150" stroke="#3a4150" stroke-width="0.35" textLength="20" lengthAdjust="spacingAndGlyphs">110</text>
<circle cx="1131.2" cy="1084.8" r="13" fill="#fff"/>
<text x="1123.8" y="1089.8" font-family='"Liberation Sans", sans-serif' font-size="14.5" fill="#3a4150" stroke="#3a4150" stroke-width="0.35" textLength="15" lengthAdjust="spacingAndGlyphs">64</text>
<circle cx="1143.8" cy="1112.9" r="13" fill="#fff"/>
<text x="1136.2" y="1117.9" font-family='"Liberation Sans", sans-serif' font-size="14.5" fill="#3a4150" stroke="#3a4150" stroke-width="0.35" textLength="15" lengthAdjust="spacingAndGlyphs">63</text>
<circle cx="1068.1" cy="1290.4" r="13" fill="#fff"/>
<text x="1060.6" y="1295.4" font-family='"Liberation Sans", sans-serif' font-size="14.5" fill="#3a4150" stroke="#3a4150" stroke-width="0.35" textLength="15" lengthAdjust="spacingAndGlyphs">54</text>
<circle cx="1081.9" cy="1322.1" r="13" fill="#fff"/>
<text x="1074.4" y="1327.1" font-family='"Liberation Sans", sans-serif' font-size="14.5" fill="#3a4150" stroke="#3a4150" stroke-width="0.35" textLength="15" lengthAdjust="spacingAndGlyphs">55</text>
<circle cx="1113.8" cy="1396.4" r="13" fill="#fff"/>
<text x="1106.2" y="1401.4" font-family='"Liberation Sans", sans-serif' font-size="14.5" fill="#3a4150" stroke="#3a4150" stroke-width="0.35" textLength="15" lengthAdjust="spacingAndGlyphs">56</text>
<circle cx="1207.5" cy="1246.4" r="13" fill="#fff"/>
<text x="1200.0" y="1251.4" font-family='"Liberation Sans", sans-serif' font-size="14.5" fill="#3a4150" stroke="#3a4150" stroke-width="0.35" textLength="15" lengthAdjust="spacingAndGlyphs">57</text>
<circle cx="1241.2" cy="1231.4" r="13" fill="#fff"/>
<text x="1233.8" y="1236.4" font-family='"Liberation Sans", sans-serif' font-size="14.5" fill="#3a4150" stroke="#3a4150" stroke-width="0.35" textLength="15" lengthAdjust="spacingAndGlyphs">58</text>
<circle cx="1295.6" cy="1210.5" r="13" fill="#fff"/>
<text x="1288.1" y="1215.5" font-family='"Liberation Sans", sans-serif' font-size="14.5" fill="#3a4150" stroke="#3a4150" stroke-width="0.35" textLength="15" lengthAdjust="spacingAndGlyphs">59</text>
<circle cx="1333.1" cy="1194.0" r="13" fill="#fff"/>
<text x="1325.6" y="1199.0" font-family='"Liberation Sans", sans-serif' font-size="14.5" fill="#3a4150" stroke="#3a4150" stroke-width="0.35" textLength="15" lengthAdjust="spacingAndGlyphs">60</text>
<circle cx="1368.4" cy="1178.6" r="13" fill="#fff"/>
<text x="1360.9" y="1183.6" font-family='"Liberation Sans", sans-serif' font-size="14.5" fill="#3a4150" stroke="#3a4150" stroke-width="0.35" textLength="15" lengthAdjust="spacingAndGlyphs">61</text>
<circle cx="1401.6" cy="1163.6" r="13" fill="#fff"/>
<text x="1394.1" y="1168.6" font-family='"Liberation Sans", sans-serif' font-size="14.5" fill="#3a4150" stroke="#3a4150" stroke-width="0.35" textLength="15" lengthAdjust="spacingAndGlyphs">62</text>
<text transform="translate(1377.5,595.0) rotate(-25.6)" x="-47.5" y="6.7" font-family='"Liberation Sans", sans-serif' font-size="18.5" fill="#f2f3f5" textLength="95" lengthAdjust="spacingAndGlyphs">Bell Pit Way</text>
<text transform="translate(1848.8,367.0) rotate(-25.6)" x="-47.5" y="6.7" font-family='"Liberation Sans", sans-serif' font-size="18.5" fill="#f2f3f5" textLength="95" lengthAdjust="spacingAndGlyphs">Bell Pit Way</text>
<text transform="translate(1047.5,1094.0) rotate(65.3)" x="-46.5" y="6.7" font-family='"Liberation Sans", sans-serif' font-size="18.5" fill="#f2f3f5" textLength="93" lengthAdjust="spacingAndGlyphs">Bell Pit Way</text>
<text transform="translate(1492.5,1245.0) rotate(-25.5)" x="-47.2" y="6.7" font-family='"Liberation Sans", sans-serif' font-size="18.5" fill="#f2f3f5" textLength="94.5" lengthAdjust="spacingAndGlyphs">Bell Pit Way</text>
<text transform="translate(1374.0,970.0) rotate(65.9)" x="-50.9" y="6.7" font-family='"Liberation Sans", sans-serif' font-size="18.5" fill="#f2f3f5" textLength="101.7" lengthAdjust="spacingAndGlyphs">Hewer  Drive</text>
<text transform="translate(1685.0,831.0) rotate(65.5)" x="-52.5" y="6.7" font-family='"Liberation Sans", sans-serif' font-size="18.5" fill="#f2f3f5" textLength="105" lengthAdjust="spacingAndGlyphs">Brattice Drive</text>
<text transform="translate(1997.5,683.8) rotate(64.7)" x="-45.9" y="6.7" font-family='"Liberation Sans", sans-serif' font-size="18.5" fill="#f2f3f5" textLength="91.7" lengthAdjust="spacingAndGlyphs">Collier  Way</text>
<text transform="translate(1936.0,1036.0) rotate(-25.5)" x="-47.2" y="6.7" font-family='"Liberation Sans", sans-serif' font-size="18.5" fill="#f2f3f5" textLength="94.5" lengthAdjust="spacingAndGlyphs">Collier  Way</text>
<text transform="translate(2278.7,1026.6) rotate(-24)" x="-51.5" y="6.7" font-family='"Liberation Sans", sans-serif' font-size="18.5" fill="#f2f3f5" textLength="103" lengthAdjust="spacingAndGlyphs">Cinder  Close</text>
<text transform="translate(2025.0,1123.8) rotate(-22)" x="-38.5" y="6.7" font-family='"Liberation Sans", sans-serif' font-size="18.5" fill="#1d1d1f" textLength="77" lengthAdjust="spacingAndGlyphs">Play Area</text>
<text transform="translate(1189.7,1458.5) rotate(9.5)" x="-8.5" y="4.9" font-family='"Liberation Sans", sans-serif' font-size="13.5" fill="#f2f3f5" textLength="17" lengthAdjust="spacingAndGlyphs">PS</text>
<text transform="translate(1884.5,1296.0) rotate(-17.6)" x="-8.5" y="4.9" font-family='"Liberation Sans", sans-serif' font-size="13.5" fill="#f2f3f5" textLength="17" lengthAdjust="spacingAndGlyphs">SS</text>
</g>
<rect x="66.5" y="114.8" width="2460" height="2" fill="#555759"/>
<g transform="translate(50,1400) scale(0.1497)" fill="#2b3a49"><path d="M290,155 L460,322 L400,382 L290,268 L200,352 L200,452 L120,388 L120,325 Z"/><path d="M472,338 L472,436 L385,528 Q350,555 325,520 Q312,495 335,470 Z"/><path d="M110,402 L110,510 L345,747 L402,747 L402,690 Z"/></g>
<text x="146.5" y="1469.5" font-family='"Liberation Sans", sans-serif' font-size="50" fill="#2b3a49" textLength="132.5" lengthAdjust="spacingAndGlyphs" stroke="#2b3a49" stroke-width="1">Places</text>
<text x="143.5" y="1511.5" font-family='"Liberation Sans", sans-serif' font-size="50" fill="#2b3a49" textLength="210" lengthAdjust="spacingAndGlyphs" stroke="#2b3a49" stroke-width="1">for People</text>
<text x="67" y="1594.6" font-family='"Liberation Sans", sans-serif' font-size="29.5" fill="#2b3a49" textLength="943" lengthAdjust="spacingAndGlyphs">yare.green@placesforpeople.co.uk  |  placesforpeople.co.uk/<tspan font-weight="bold">yare-green</tspan></text>
<text x="67" y="1639.5" font-family='"Liberation Sans", sans-serif' font-size="29.5" fill="#2b3a49" textLength="577.5" lengthAdjust="spacingAndGlyphs">Chapel Street, Shipdham, Norfolk, IP25 7LB</text>
<text x="67" y="1714.5" font-family='"Liberation Sans", sans-serif' font-size="19.5" fill="#6d7078" textLength="2069" lengthAdjust="spacingAndGlyphs"><tspan font-weight="bold">Please note:</tspan> All CGIs, floor plans, configurations, maps and information are intended for guidance only and accuracy of this information cannot be relied upon by prospective purchasers who must make their own enquiries to</text>
<text x="67" y="1742" font-family='"Liberation Sans", sans-serif' font-size="19.5" fill="#6d7078" textLength="2062" lengthAdjust="spacingAndGlyphs">satisfy themselves by inspection or otherwise as to the correct detail, including individual plot plans and colours. Sizes and dimensions approximate and subject to change. Correct at time of print – July 2025. 4081/30.08.20/v3</text>
<g stroke="#2b3a49" fill="none"><circle cx="2480.4" cy="1598.2" r="44" stroke-width="2.4"/><line x1="2436" y1="1598.2" x2="2525" y2="1598.2" stroke-width="1.6"/><line x1="2480.4" y1="1598.2" x2="2480.4" y2="1642" stroke-width="1.6"/><line x1="2480.9" y1="1555" x2="2480.9" y2="1598.2" stroke-width="7"/></g>
<text x="2443" y="1529.8" font-family='"Liberation Sans", sans-serif' font-size="30.5" fill="#2b3a49" textLength="75.5" lengthAdjust="spacingAndGlyphs">North</text>
<rect x="0" y="1765" width="2640" height="6" fill="#efefef"/><rect x="0" y="1765" width="2640" height="1.5" fill="#dcdcdc"/>
</svg>
</body></html>
